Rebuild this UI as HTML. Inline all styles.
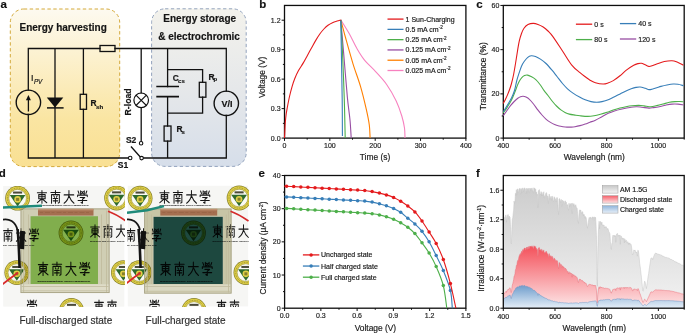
<!DOCTYPE html><html><head><meta charset="utf-8"><style>html,body{margin:0;padding:0;background:#fff;}svg{display:block;will-change:transform;} text{stroke:#1a1a1a;stroke-width:0.18px;}</style></head><body>
<svg width="685" height="333" viewBox="0 0 685 333" font-family='"Liberation Sans", sans-serif'>
<defs>
<linearGradient id="gy" x1="0" y1="0" x2="0" y2="1"><stop offset="0" stop-color="#fdfaf0"/><stop offset="0.3" stop-color="#fcf1cf"/><stop offset="0.7" stop-color="#fae5a2"/><stop offset="1" stop-color="#f9e093"/></linearGradient>
<linearGradient id="gb" x1="0" y1="0" x2="0" y2="1"><stop offset="0" stop-color="#f3f2ec"/><stop offset="0.5" stop-color="#e6e8ea"/><stop offset="1" stop-color="#d6deea"/></linearGradient>
<linearGradient id="ggray" x1="0" y1="0" x2="0" y2="1"><stop offset="0" stop-color="#cdcdcd"/><stop offset="1" stop-color="#f3f3f3"/></linearGradient>
<linearGradient id="gred" x1="0" y1="0" x2="0" y2="1"><stop offset="0" stop-color="#f4505a"/><stop offset="1" stop-color="#fde8e9"/></linearGradient>
<linearGradient id="gblue" x1="0" y1="0" x2="0" y2="1"><stop offset="0" stop-color="#6f9dcc"/><stop offset="1" stop-color="#e6eff8"/></linearGradient>
<linearGradient id="sgray" x1="0" y1="0" x2="0" y2="1"><stop offset="0" stop-color="#c8c8c8"/><stop offset="1" stop-color="#f4f4f4"/></linearGradient>
<linearGradient id="sred" x1="0" y1="0" x2="0" y2="1"><stop offset="0" stop-color="#f5606a"/><stop offset="1" stop-color="#fde3e4"/></linearGradient>
<linearGradient id="sblue" x1="0" y1="0" x2="0" y2="1"><stop offset="0" stop-color="#8fb4da"/><stop offset="1" stop-color="#e8f0f9"/></linearGradient>
</defs>
<text x="0.5" y="7.6" font-size="11.5" text-anchor="start" font-weight="bold" fill="#111">a</text>
<text x="259.3" y="7.9" font-size="11.5" text-anchor="start" font-weight="bold" fill="#111">b</text>
<text x="476.3" y="7.9" font-size="11.5" text-anchor="start" font-weight="bold" fill="#111">c</text>
<text x="-1.2" y="177" font-size="11.5" text-anchor="start" font-weight="bold" fill="#111">d</text>
<text x="258.6" y="177.1" font-size="11.5" text-anchor="start" font-weight="bold" fill="#111">e</text>
<text x="476" y="176.9" font-size="11.5" text-anchor="start" font-weight="bold" fill="#111">f</text>
<rect x="10.3" y="9.0" width="109.4" height="157.6" rx="13.5" ry="13.5" fill="url(#gy)" stroke="#d4a93a" stroke-width="1" stroke-dasharray="3.4 2.5"/>
<rect x="151.6" y="8.8" width="94.6" height="157.6" rx="13.5" ry="13.5" fill="url(#gb)" stroke="#93a3bd" stroke-width="1" stroke-dasharray="3.3 2.5"/>
<text x="19.5" y="30.8" font-size="10" text-anchor="start" font-weight="bold" fill="#141414">Energy harvesting</text>
<text x="163.3" y="22.2" font-size="10" text-anchor="start" font-weight="bold" fill="#141414">Energy storage</text>
<text x="158.2" y="40" font-size="10" text-anchor="start" font-weight="bold" fill="#141414">&amp; electrochromic</text>
<path d="M28.3,48.5 H100 M115,48.5 H226.3 M28.3,48.5 V90.1 M28.3,114.5 V158 M55,48.5 V158 M83.4,48.5 V94.3 M83.4,109.3 V158 M28.3,158 H128.4 M143.3,158 H226.3 M141.2,48.5 V92.9 M141.2,107.7 V141.4 M167.6,48.5 V86.5 M167.6,96.7 V126 M167.6,141.1 V158 M167.6,69.6 H202.6 V82.3 M202.6,97.2 V113.2 H167.6 M226.3,48.5 V91.1 M226.3,115.5 V158 M131.4,147 L140.3,157 " stroke="#111" stroke-width="1.3" fill="none" stroke-linecap="square"/>
<rect x="100" y="45.5" width="15" height="6" fill="none" stroke="#111" stroke-width="1.3"/>
<rect x="80.2" y="94.3" width="6.3" height="15" fill="none" stroke="#111" stroke-width="1.3"/>
<rect x="199.3" y="82.3" width="6.6" height="14.9" fill="none" stroke="#111" stroke-width="1.3"/>
<rect x="164.1" y="126" width="6.9" height="15.1" fill="none" stroke="#111" stroke-width="1.3"/>
<path d="M156.3,86.5 H179 M156.3,96.7 H179" stroke="#111" stroke-width="1.7"/>
<circle cx="28.4" cy="102.3" r="12.2" fill="none" stroke="#111" stroke-width="1.4"/>
<path d="M28.4,111.5 V99" stroke="#111" stroke-width="1.3"/><path d="M25.9,100.3 L28.4,95 L30.9,100.3 Z" fill="#111"/>
<path d="M46.8,97.5 L63.3,97.5 L55,107.4 Z" fill="#111"/><path d="M47,107.9 H63.6" stroke="#111" stroke-width="1.5"/>
<circle cx="141.2" cy="100.3" r="7.3" fill="none" stroke="#111" stroke-width="1.2"/>
<path d="M136.0,95.1 L146.4,105.5 M146.4,95.1 L136.0,105.5" stroke="#111" stroke-width="1.1"/>
<circle cx="226.3" cy="103.3" r="12.2" fill="none" stroke="#111" stroke-width="1.4"/>
<circle cx="130.2" cy="158" r="1.75" fill="#fff" stroke="#111" stroke-width="1.1"/>
<circle cx="141.6" cy="158.1" r="1.75" fill="#fff" stroke="#111" stroke-width="1.1"/>
<circle cx="141.1" cy="143.2" r="1.75" fill="#fff" stroke="#111" stroke-width="1.1"/>
<text x="31.1" y="81.3" font-size="8.9" text-anchor="start" font-weight="normal" fill="#0a0a0a">I</text>
<text x="33.9" y="83.7" font-size="6.3" text-anchor="start" font-weight="normal" fill="#141414" font-style="italic">PV</text>
<text x="90.6" y="105.8" font-size="8.4" text-anchor="start" font-weight="bold" fill="#141414">R</text>
<text x="96.1" y="108.7" font-size="6.1" text-anchor="start" font-weight="bold" fill="#141414">sh</text>
<text x="172.7" y="81" font-size="8.4" text-anchor="start" font-weight="bold" fill="#141414">C</text>
<text x="178.1" y="82.6" font-size="6.0" text-anchor="start" font-weight="bold" fill="#141414">cs</text>
<text x="208.6" y="79.9" font-size="8.4" text-anchor="start" font-weight="bold" fill="#141414">R</text>
<text x="213.5" y="81.2" font-size="6.0" text-anchor="start" font-weight="bold" fill="#141414">p</text>
<text x="176.4" y="131.8" font-size="8.4" text-anchor="start" font-weight="bold" fill="#141414">R</text>
<text x="181.4" y="133.6" font-size="6.0" text-anchor="start" font-weight="bold" fill="#141414">s</text>
<text x="226.9" y="106.6" font-size="9" text-anchor="middle" font-weight="bold" fill="#141414">V/I</text>
<text transform="translate(130.7,101.9) rotate(-90)" font-size="8.7" text-anchor="middle" font-weight="bold" fill="#141414">R-load</text>
<text x="125.9" y="142.7" font-size="8.5" text-anchor="start" font-weight="bold" fill="#141414">S2</text>
<text x="117.8" y="168.4" font-size="8.5" text-anchor="start" font-weight="bold" fill="#141414">S1</text>
<path d="M284.5,138.1 V140.9 M329.85,138.1 V140.9 M375.2,138.1 V140.9 M420.55,138.1 V140.9 M465.9,138.1 V140.9 M307.18,138.1 V139.7 M352.52,138.1 V139.7 M397.88,138.1 V139.7 M443.23,138.1 V139.7 M284.5,138.1 H281.6 M284.5,108.62 H281.6 M284.5,79.14 H281.6 M284.5,49.67 H281.6 M284.5,20.19 H281.6 M284.5,123.36 H282.9 M284.5,93.88 H282.9 M284.5,64.41 H282.9 M284.5,34.93 H282.9 " stroke="#0d0d0d" stroke-width="1.0" fill="none"/>
<rect x="284.5" y="5.45" width="181.4" height="132.65" fill="none" stroke="#0d0d0d" stroke-width="1.3"/>
<text x="284.5" y="148.3" font-size="7" text-anchor="middle" font-weight="normal" fill="#2a2a2a">0</text>
<text x="329.85" y="148.3" font-size="7" text-anchor="middle" font-weight="normal" fill="#2a2a2a">100</text>
<text x="375.2" y="148.3" font-size="7" text-anchor="middle" font-weight="normal" fill="#2a2a2a">200</text>
<text x="420.55" y="148.3" font-size="7" text-anchor="middle" font-weight="normal" fill="#2a2a2a">300</text>
<text x="465.9" y="148.3" font-size="7" text-anchor="middle" font-weight="normal" fill="#2a2a2a">400</text>
<text x="280.6" y="140.6" font-size="7" text-anchor="end" font-weight="normal" fill="#2a2a2a">0.0</text>
<text x="280.6" y="111.12" font-size="7" text-anchor="end" font-weight="normal" fill="#2a2a2a">0.3</text>
<text x="280.6" y="81.64" font-size="7" text-anchor="end" font-weight="normal" fill="#2a2a2a">0.6</text>
<text x="280.6" y="52.17" font-size="7" text-anchor="end" font-weight="normal" fill="#2a2a2a">0.9</text>
<text x="280.6" y="22.69" font-size="7" text-anchor="end" font-weight="normal" fill="#2a2a2a">1.2</text>
<text x="375" y="159.9" font-size="8.4" text-anchor="middle" font-weight="normal" fill="#1a1a1a">Time (s)</text>
<text transform="translate(265.2,77.3) rotate(-90)" font-size="8.4" text-anchor="middle" font-weight="normal" fill="#1a1a1a">Voltage (V)</text>
<path d="M340.8,19.9 C342.22,22.22 346.63,29.07 349.3,33.8 C351.97,38.53 354.3,43.97 356.8,48.3 C359.3,52.63 361.17,55.92 364.3,59.8 C367.43,63.68 371.85,67.45 375.6,71.6 C379.35,75.75 383.37,79.8 386.8,84.7 C390.23,89.6 393.7,95.78 396.2,101 C398.7,106.22 400.42,111.5 401.8,116 C403.18,120.5 403.97,124.33 404.5,128 C405.03,131.67 404.92,136.33 405,138" stroke="#F781BF" stroke-width="1.1" fill="none"/>
<path d="M340.8,19.9 C341.58,22.83 343.47,30.18 345.5,37.5 C347.53,44.82 350.5,55.65 353,63.8 C355.5,71.95 358.3,78.88 360.5,86.4 C362.7,93.92 364.73,102.47 366.2,108.9 C367.67,115.33 368.65,120.15 369.3,125 C369.95,129.85 369.97,135.83 370.1,138" stroke="#FF7F00" stroke-width="1.1" fill="none"/>
<path d="M340.8,19.9 C341.27,25.35 342.5,39.65 343.6,52.6 C344.7,65.55 346.33,86.37 347.4,97.6 C348.47,108.83 349.37,113.27 350,120 C350.63,126.73 351,135 351.2,138" stroke="#984EA3" stroke-width="1.1" fill="none"/>
<path d="M340.8,19.9 C341.08,25.35 341.92,39.25 342.5,52.6 C343.08,65.95 343.85,85.77 344.3,100 C344.75,114.23 345.05,131.67 345.2,138" stroke="#4DAF4A" stroke-width="1.1" fill="none"/>
<path d="M340.8,19.9 C340.92,26.58 341.27,46.65 341.5,60 C341.73,73.35 342.05,87.33 342.2,100 C342.35,112.67 342.37,130 342.4,136" stroke="#377EB8" stroke-width="1.1" fill="none"/>
<path d="M284.5,138 C284.57,136.67 284.77,132.58 284.9,130 C285.03,127.42 285.08,125.17 285.3,122.5 C285.52,119.83 285.87,116.5 286.2,114 C286.53,111.5 286.75,110.42 287.3,107.5 C287.85,104.58 288.72,99.95 289.5,96.5 C290.28,93.05 291.13,89.75 292,86.8 C292.87,83.85 293.62,81.5 294.7,78.8 C295.78,76.1 297.07,73.25 298.5,70.6 C299.93,67.95 301.82,65.43 303.3,62.9 C304.78,60.37 306.03,57.88 307.4,55.4 C308.77,52.92 310.13,50.47 311.5,48 C312.87,45.53 314.22,42.93 315.6,40.6 C316.98,38.27 318.42,35.93 319.8,34 C321.18,32.07 322.53,30.47 323.9,29 C325.27,27.53 326.48,26.3 328,25.2 C329.52,24.1 331.48,23.08 333,22.4 C334.52,21.72 335.8,21.52 337.1,21.1 C338.4,20.68 340.18,20.1 340.8,19.9" stroke="#E41A1C" stroke-width="1.1" fill="none"/>
<path d="M387.5,19.1 H403.5" stroke="#E41A1C" stroke-width="1.3"/>
<text x="405.6" y="21.6" font-size="7" text-anchor="start" font-weight="normal" fill="#1a1a1a">1 Sun-Charging</text>
<path d="M387.5,29.38 H403.5" stroke="#377EB8" stroke-width="1.3"/>
<text x="405.6" y="31.88" font-size="7" fill="#1a1a1a">0.5 mA cm<tspan font-size="4.6" dy="-2.6">-2</tspan></text>
<path d="M387.5,39.66 H403.5" stroke="#4DAF4A" stroke-width="1.3"/>
<text x="405.6" y="42.16" font-size="7" fill="#1a1a1a">0.25 mA cm<tspan font-size="4.6" dy="-2.6">-2</tspan></text>
<path d="M387.5,49.94 H403.5" stroke="#984EA3" stroke-width="1.3"/>
<text x="405.6" y="52.44" font-size="7" fill="#1a1a1a">0.125 mA cm<tspan font-size="4.6" dy="-2.6">-2</tspan></text>
<path d="M387.5,60.22 H403.5" stroke="#FF7F00" stroke-width="1.3"/>
<text x="405.6" y="62.72" font-size="7" fill="#1a1a1a">0.05 mA cm<tspan font-size="4.6" dy="-2.6">-2</tspan></text>
<path d="M387.5,70.5 H403.5" stroke="#F781BF" stroke-width="1.3"/>
<text x="405.6" y="73" font-size="7" fill="#1a1a1a">0.025 mA cm<tspan font-size="4.6" dy="-2.6">-2</tspan></text>
<path d="M503.3,138.1 V140.9 M554.99,138.1 V140.9 M606.67,138.1 V140.9 M658.36,138.1 V140.9 M529.14,138.1 V139.7 M580.83,138.1 V139.7 M632.51,138.1 V139.7 M684.2,138.1 V139.7 M503.3,138.1 H500.4 M503.3,93.88 H500.4 M503.3,49.67 H500.4 M503.3,5.45 H500.4 M503.3,115.99 H501.7 M503.3,71.77 H501.7 M503.3,27.56 H501.7 " stroke="#0d0d0d" stroke-width="1.0" fill="none"/>
<rect x="503.3" y="5.45" width="180.9" height="132.65" fill="none" stroke="#0d0d0d" stroke-width="1.3"/>
<text x="503.3" y="148.3" font-size="7" text-anchor="middle" font-weight="normal" fill="#2a2a2a">400</text>
<text x="554.99" y="148.3" font-size="7" text-anchor="middle" font-weight="normal" fill="#2a2a2a">600</text>
<text x="606.67" y="148.3" font-size="7" text-anchor="middle" font-weight="normal" fill="#2a2a2a">800</text>
<text x="658.36" y="148.3" font-size="7" text-anchor="middle" font-weight="normal" fill="#2a2a2a">1000</text>
<text x="499.3" y="140.6" font-size="7" text-anchor="end" font-weight="normal" fill="#2a2a2a">0</text>
<text x="499.3" y="96.38" font-size="7" text-anchor="end" font-weight="normal" fill="#2a2a2a">20</text>
<text x="499.3" y="52.17" font-size="7" text-anchor="end" font-weight="normal" fill="#2a2a2a">40</text>
<text x="499.3" y="7.95" font-size="7" text-anchor="end" font-weight="normal" fill="#2a2a2a">60</text>
<text x="594.3" y="160.2" font-size="8.4" text-anchor="middle" font-weight="normal" fill="#1a1a1a">Wavelengh (nm)</text>
<text transform="translate(485.6,76.3) rotate(-90)" font-size="8.4" text-anchor="middle" font-weight="normal" fill="#1a1a1a">Transmittance (%)</text>
<path d="M503.3,115.6 C503.88,114.8 505.6,112.45 506.8,110.8 C508,109.15 509.27,107.25 510.5,105.7 C511.73,104.15 512.98,102.73 514.2,101.5 C515.42,100.27 516.75,99.1 517.8,98.3 C518.85,97.5 519.62,97.05 520.5,96.7 C521.38,96.35 522.18,96.13 523.1,96.2 C524.02,96.27 524.95,96.57 526,97.1 C527.05,97.63 528.15,98.25 529.4,99.4 C530.65,100.55 532.1,102.25 533.5,104 C534.9,105.75 536.38,108.07 537.8,109.9 C539.22,111.73 540.6,113.43 542,115 C543.4,116.57 544.78,118.07 546.2,119.3 C547.62,120.53 549.1,121.52 550.5,122.4 C551.9,123.28 553.18,124 554.6,124.6 C556.02,125.2 557.6,125.65 559,126 C560.4,126.35 561.67,126.52 563,126.7 C564.33,126.88 565.6,127.03 567,127.1 C568.4,127.17 570.07,127.17 571.4,127.1 C572.73,127.03 573.57,126.95 575,126.7 C576.43,126.45 578.3,126.05 580,125.6 C581.7,125.15 583.53,124.57 585.2,124 C586.87,123.43 588.3,122.83 590,122.2 C591.7,121.57 593.48,121.08 595.4,120.2 C597.32,119.32 599.37,118.05 601.5,116.9 C603.63,115.75 606.03,114.3 608.2,113.3 C610.37,112.3 612.38,111.58 614.5,110.9 C616.62,110.22 618.65,109.72 620.9,109.2 C623.15,108.68 625.43,108.22 628,107.8 C630.57,107.38 633.97,106.8 636.3,106.7 C638.63,106.6 639.88,106.97 642,107.2 C644.12,107.43 647.08,108.03 649,108.1 C650.92,108.17 651.8,107.83 653.5,107.6 C655.2,107.37 657.2,107.1 659.2,106.7 C661.2,106.3 663.37,105.63 665.5,105.2 C667.63,104.77 669.92,104.28 672,104.1 C674.08,103.92 676.08,103.97 678,104.1 C679.92,104.23 682.58,104.77 683.5,104.9" stroke="#984EA3" stroke-width="1.1" fill="none"/>
<path d="M503.3,113 C503.97,112.02 505.93,109.27 507.3,107.1 C508.67,104.93 510.27,102.42 511.5,100 C512.73,97.58 513.73,95 514.7,92.6 C515.67,90.2 516.53,87.5 517.3,85.6 C518.07,83.7 518.58,82.5 519.3,81.2 C520.02,79.9 520.73,78.73 521.6,77.8 C522.47,76.87 523.52,76.05 524.5,75.6 C525.48,75.15 526.42,74.95 527.5,75.1 C528.58,75.25 529.62,75.75 531,76.5 C532.38,77.25 534.3,78.27 535.8,79.6 C537.3,80.93 538.62,82.67 540,84.5 C541.38,86.33 542.77,88.77 544.1,90.6 C545.43,92.43 546.6,93.68 548,95.5 C549.4,97.32 551.08,99.75 552.5,101.5 C553.92,103.25 555.1,104.6 556.5,106 C557.9,107.4 559.48,108.83 560.9,109.9 C562.32,110.97 563.6,111.7 565,112.4 C566.4,113.1 567.63,113.65 569.3,114.1 C570.97,114.55 573.22,114.82 575,115.1 C576.78,115.38 577.87,115.58 580,115.8 C582.13,116.02 585.47,116.4 587.8,116.4 C590.13,116.4 591.88,116.15 594,115.8 C596.12,115.45 598.33,114.88 600.5,114.3 C602.67,113.72 604.87,113.02 607,112.3 C609.13,111.58 611.13,110.72 613.3,110 C615.47,109.28 617.88,108.55 620,108 C622.12,107.45 624,107.07 626,106.7 C628,106.33 629.87,106.02 632,105.8 C634.13,105.58 636.8,105.38 638.8,105.4 C640.8,105.42 642.3,105.68 644,105.9 C645.7,106.12 647.58,106.6 649,106.7 C650.42,106.8 651.22,106.68 652.5,106.5 C653.78,106.32 654.95,106.02 656.7,105.6 C658.45,105.18 660.88,104.55 663,104 C665.12,103.45 667.4,102.7 669.4,102.3 C671.4,101.9 673.3,101.73 675,101.6 C676.7,101.47 678.18,101.47 679.6,101.5 C681.02,101.53 682.85,101.75 683.5,101.8" stroke="#4DAF4A" stroke-width="1.1" fill="none"/>
<path d="M503.3,111.8 C503.97,110.7 505.93,107.5 507.3,105.2 C508.67,102.9 510.3,100.45 511.5,98 C512.7,95.55 513.62,93.42 514.5,90.5 C515.38,87.58 516.02,83.47 516.8,80.5 C517.58,77.53 518.42,75.08 519.2,72.7 C519.98,70.32 520.7,68.02 521.5,66.2 C522.3,64.38 523,63.23 524,61.8 C525,60.37 526.3,58.6 527.5,57.6 C528.7,56.6 529.87,55.97 531.2,55.8 C532.53,55.63 533.9,56 535.5,56.6 C537.1,57.2 539.05,58.25 540.8,59.4 C542.55,60.55 544.13,61.7 546,63.5 C547.87,65.3 550.17,68.03 552,70.2 C553.83,72.37 555.25,74.28 557,76.5 C558.75,78.72 560.75,81.45 562.5,83.5 C564.25,85.55 565.75,87.2 567.5,88.8 C569.25,90.4 570.92,91.68 573,93.1 C575.08,94.52 577.97,96.18 580,97.3 C582.03,98.42 583.37,99.08 585.2,99.8 C587.03,100.52 589.08,101.18 591,101.6 C592.92,102.02 594.87,102.3 596.7,102.3 C598.53,102.3 600.08,102.02 602,101.6 C603.92,101.18 606.2,100.57 608.2,99.8 C610.2,99.03 611.88,98.07 614,97 C616.12,95.93 618.9,94.42 620.9,93.4 C622.9,92.38 624.28,91.67 626,90.9 C627.72,90.13 629.53,89.38 631.2,88.8 C632.87,88.22 634.52,87.7 636,87.4 C637.48,87.1 638.57,86.85 640.1,87 C641.63,87.15 643.72,87.87 645.2,88.3 C646.68,88.73 647.87,89.45 649,89.6 C650.13,89.75 650.72,89.5 652,89.2 C653.28,88.9 655.2,88.27 656.7,87.8 C658.2,87.33 659.3,86.87 661,86.4 C662.7,85.93 664.85,85.4 666.9,85 C668.95,84.6 671.45,84.12 673.3,84 C675.15,83.88 676.3,84.02 678,84.3 C679.7,84.58 682.58,85.47 683.5,85.7" stroke="#377EB8" stroke-width="1.1" fill="none"/>
<path d="M503.3,103.4 C503.67,102.7 504.8,100.62 505.5,99.2 C506.2,97.78 506.83,96.47 507.5,94.9 C508.17,93.33 508.83,91.7 509.5,89.8 C510.17,87.9 510.82,86.05 511.5,83.5 C512.18,80.95 512.92,77.92 513.6,74.5 C514.28,71.08 514.95,66.92 515.6,63 C516.25,59.08 516.9,54.6 517.5,51 C518.1,47.4 518.53,44.32 519.2,41.4 C519.87,38.48 520.7,35.7 521.5,33.5 C522.3,31.3 522.92,29.68 524,28.2 C525.08,26.72 526.47,25.4 528,24.6 C529.53,23.8 531.53,23.43 533.2,23.4 C534.87,23.37 536.33,23.8 538,24.4 C539.67,25 541.53,25.9 543.2,27 C544.87,28.1 546.38,29.4 548,31 C549.62,32.6 550.48,33.27 552.9,36.6 C555.32,39.93 559.32,46.2 562.5,51 C565.68,55.8 569.08,61.78 572,65.4 C574.92,69.02 577.8,70.8 580,72.7 C582.2,74.6 583.53,75.55 585.2,76.8 C586.87,78.05 588.3,79.22 590,80.2 C591.7,81.18 593.22,82.07 595.4,82.7 C597.58,83.33 601,83.95 603.1,84 C605.2,84.05 606.3,83.57 608,83 C609.7,82.43 611.3,81.8 613.3,80.6 C615.3,79.4 617.88,77.5 620,75.8 C622.12,74.1 623.72,72.15 626,70.4 C628.28,68.65 631.7,66.43 633.7,65.3 C635.7,64.17 636.72,63.93 638,63.6 C639.28,63.27 640.2,63.1 641.4,63.3 C642.6,63.5 643.93,64.28 645.2,64.8 C646.47,65.32 647.87,66.23 649,66.4 C650.13,66.57 650.72,66.2 652,65.8 C653.28,65.4 654.65,64.72 656.7,64 C658.75,63.28 661.75,62.05 664.3,61.5 C666.85,60.95 669.87,60.6 672,60.7 C674.13,60.8 675.18,61.33 677.1,62.1 C679.02,62.87 682.43,64.77 683.5,65.3" stroke="#E41A1C" stroke-width="1.1" fill="none"/>
<path d="M575.9,24.2 H592.1999999999999" stroke="#E41A1C" stroke-width="1.3"/>
<text x="594.3" y="26.7" font-size="7" text-anchor="start" font-weight="normal" fill="#1a1a1a">0 s</text>
<path d="M619.9,23.6 H636.1999999999999" stroke="#377EB8" stroke-width="1.3"/>
<text x="638.3" y="26.1" font-size="7" text-anchor="start" font-weight="normal" fill="#1a1a1a">40 s</text>
<path d="M575.9,39.6 H592.1999999999999" stroke="#4DAF4A" stroke-width="1.3"/>
<text x="594.3" y="42.1" font-size="7" text-anchor="start" font-weight="normal" fill="#1a1a1a">80 s</text>
<path d="M619.9,39.0 H636.1999999999999" stroke="#984EA3" stroke-width="1.3"/>
<text x="638.3" y="41.5" font-size="7" text-anchor="start" font-weight="normal" fill="#1a1a1a">120 s</text>
<path d="M284.6,308.2 V311 M320.86,308.2 V311 M357.12,308.2 V311 M393.38,308.2 V311 M429.64,308.2 V311 M465.9,308.2 V311 M302.73,308.2 V309.8 M338.99,308.2 V309.8 M375.25,308.2 V309.8 M411.51,308.2 V309.8 M447.77,308.2 V309.8 M284.6,308.2 H281.7 M284.6,275.02 H281.7 M284.6,241.85 H281.7 M284.6,208.68 H281.7 M284.6,175.5 H281.7 M284.6,291.61 H283 M284.6,258.44 H283 M284.6,225.26 H283 M284.6,192.09 H283 " stroke="#0d0d0d" stroke-width="1.0" fill="none"/>
<rect x="284.6" y="175.5" width="181.3" height="132.7" fill="none" stroke="#0d0d0d" stroke-width="1.3"/>
<text x="284.6" y="318.3" font-size="7" text-anchor="middle" font-weight="normal" fill="#2a2a2a">0.0</text>
<text x="320.86" y="318.3" font-size="7" text-anchor="middle" font-weight="normal" fill="#2a2a2a">0.3</text>
<text x="357.12" y="318.3" font-size="7" text-anchor="middle" font-weight="normal" fill="#2a2a2a">0.6</text>
<text x="393.38" y="318.3" font-size="7" text-anchor="middle" font-weight="normal" fill="#2a2a2a">0.9</text>
<text x="429.64" y="318.3" font-size="7" text-anchor="middle" font-weight="normal" fill="#2a2a2a">1.2</text>
<text x="465.9" y="318.3" font-size="7" text-anchor="middle" font-weight="normal" fill="#2a2a2a">1.5</text>
<text x="280.6" y="310.7" font-size="7" text-anchor="end" font-weight="normal" fill="#2a2a2a">0</text>
<text x="280.6" y="277.52" font-size="7" text-anchor="end" font-weight="normal" fill="#2a2a2a">10</text>
<text x="280.6" y="244.35" font-size="7" text-anchor="end" font-weight="normal" fill="#2a2a2a">20</text>
<text x="280.6" y="211.18" font-size="7" text-anchor="end" font-weight="normal" fill="#2a2a2a">30</text>
<text x="280.6" y="178" font-size="7" text-anchor="end" font-weight="normal" fill="#2a2a2a">40</text>
<text x="375.4" y="330.6" font-size="8.4" text-anchor="middle" font-weight="normal" fill="#1a1a1a">Voltage (V)</text>
<text transform="translate(266.3,248) rotate(-90)" font-size="8.4" text-anchor="middle" fill="#1a1a1a">Current density (μA cm<tspan font-size="5.4" dy="-3">-2</tspan><tspan dy="3">)</tspan></text>
<path d="M284.3,208.35 C284.68,208.36 285.03,208.32 286.6,208.4 C288.17,208.48 291.34,208.68 293.7,208.83 C296.07,208.97 298.44,209.11 300.81,209.25 C303.18,209.39 305.54,209.53 307.91,209.68 C310.28,209.82 312.65,209.96 315.02,210.1 C317.38,210.24 319.75,210.38 322.12,210.53 C324.49,210.67 326.86,210.81 329.22,210.95 C331.59,211.09 333.96,211.24 336.33,211.38 C338.7,211.52 341.06,211.66 343.43,211.8 C345.8,211.94 348.17,212.09 350.54,212.23 C352.9,212.37 355.27,212.51 357.64,212.65 C360.01,212.8 362.33,212.89 364.74,213.08 C367.15,213.27 369.66,213.5 372.1,213.8 C374.54,214.1 377.02,214.4 379.4,214.9 C381.78,215.4 384.03,216.08 386.4,216.8 C388.77,217.52 391.22,218.2 393.6,219.2 C395.98,220.2 398.33,221.47 400.7,222.8 C403.07,224.13 405.43,225.4 407.8,227.2 C410.17,229 412.53,231 414.9,233.6 C417.27,236.2 419.63,239.57 422,242.8 C424.37,246.03 426.73,249.03 429.1,253 C431.47,256.97 433.83,261.18 436.2,266.6 C438.57,272.02 441.53,278.57 443.3,285.5 C445.07,292.43 446.22,304.42 446.8,308.2" stroke="#4DAF4A" stroke-width="1.1" fill="none"/>
<circle cx="286.6" cy="208.4" r="1.75" fill="#4DAF4A"/>
<circle cx="293.7" cy="208.83" r="1.75" fill="#4DAF4A"/>
<circle cx="300.81" cy="209.25" r="1.75" fill="#4DAF4A"/>
<circle cx="307.91" cy="209.68" r="1.75" fill="#4DAF4A"/>
<circle cx="315.02" cy="210.1" r="1.75" fill="#4DAF4A"/>
<circle cx="322.12" cy="210.53" r="1.75" fill="#4DAF4A"/>
<circle cx="329.22" cy="210.95" r="1.75" fill="#4DAF4A"/>
<circle cx="336.33" cy="211.38" r="1.75" fill="#4DAF4A"/>
<circle cx="343.43" cy="211.8" r="1.75" fill="#4DAF4A"/>
<circle cx="350.54" cy="212.23" r="1.75" fill="#4DAF4A"/>
<circle cx="357.64" cy="212.65" r="1.75" fill="#4DAF4A"/>
<circle cx="364.74" cy="213.08" r="1.75" fill="#4DAF4A"/>
<circle cx="372.1" cy="213.8" r="1.75" fill="#4DAF4A"/>
<circle cx="379.4" cy="214.9" r="1.75" fill="#4DAF4A"/>
<circle cx="386.4" cy="216.8" r="1.75" fill="#4DAF4A"/>
<circle cx="393.6" cy="219.2" r="1.75" fill="#4DAF4A"/>
<circle cx="400.7" cy="222.8" r="1.75" fill="#4DAF4A"/>
<circle cx="407.8" cy="227.2" r="1.75" fill="#4DAF4A"/>
<circle cx="414.9" cy="233.6" r="1.75" fill="#4DAF4A"/>
<circle cx="422" cy="242.8" r="1.75" fill="#4DAF4A"/>
<circle cx="429.1" cy="253" r="1.75" fill="#4DAF4A"/>
<circle cx="436.2" cy="266.6" r="1.75" fill="#4DAF4A"/>
<circle cx="443.3" cy="285.5" r="1.75" fill="#4DAF4A"/>
<path d="M284.3,196.85 C284.68,196.86 285.03,196.83 286.6,196.9 C288.17,196.97 291.34,197.15 293.7,197.28 C296.07,197.41 298.44,197.53 300.81,197.66 C303.18,197.79 305.54,197.91 307.91,198.04 C310.28,198.17 312.65,198.29 315.02,198.42 C317.38,198.55 319.75,198.67 322.12,198.8 C324.49,198.93 326.86,199.05 329.22,199.18 C331.59,199.31 333.96,199.43 336.33,199.56 C338.7,199.69 341.06,199.81 343.43,199.94 C345.8,200.07 348.17,200.19 350.54,200.32 C352.9,200.45 355.27,200.57 357.64,200.7 C360.01,200.83 362.33,200.85 364.74,201.08 C367.15,201.31 369.66,201.66 372.1,202.1 C374.54,202.54 377.02,203.08 379.4,203.7 C381.78,204.32 384.03,205.02 386.4,205.8 C388.77,206.58 391.22,207.32 393.6,208.4 C395.98,209.48 398.33,210.67 400.7,212.3 C403.07,213.93 405.43,216.25 407.8,218.2 C410.17,220.15 412.53,221.82 414.9,224 C417.27,226.18 419.63,228.33 422,231.3 C424.37,234.27 426.73,237.75 429.1,241.8 C431.47,245.85 433.83,250.82 436.2,255.6 C438.57,260.38 440.93,264.68 443.3,270.5 C445.67,276.32 448.9,284.22 450.4,290.5 C451.9,296.78 451.98,305.25 452.3,308.2" stroke="#377EB8" stroke-width="1.1" fill="none"/>
<circle cx="286.6" cy="196.9" r="1.75" fill="#377EB8"/>
<circle cx="293.7" cy="197.28" r="1.75" fill="#377EB8"/>
<circle cx="300.81" cy="197.66" r="1.75" fill="#377EB8"/>
<circle cx="307.91" cy="198.04" r="1.75" fill="#377EB8"/>
<circle cx="315.02" cy="198.42" r="1.75" fill="#377EB8"/>
<circle cx="322.12" cy="198.8" r="1.75" fill="#377EB8"/>
<circle cx="329.22" cy="199.18" r="1.75" fill="#377EB8"/>
<circle cx="336.33" cy="199.56" r="1.75" fill="#377EB8"/>
<circle cx="343.43" cy="199.94" r="1.75" fill="#377EB8"/>
<circle cx="350.54" cy="200.32" r="1.75" fill="#377EB8"/>
<circle cx="357.64" cy="200.7" r="1.75" fill="#377EB8"/>
<circle cx="364.74" cy="201.08" r="1.75" fill="#377EB8"/>
<circle cx="372.1" cy="202.1" r="1.75" fill="#377EB8"/>
<circle cx="379.4" cy="203.7" r="1.75" fill="#377EB8"/>
<circle cx="386.4" cy="205.8" r="1.75" fill="#377EB8"/>
<circle cx="393.6" cy="208.4" r="1.75" fill="#377EB8"/>
<circle cx="400.7" cy="212.3" r="1.75" fill="#377EB8"/>
<circle cx="407.8" cy="218.2" r="1.75" fill="#377EB8"/>
<circle cx="414.9" cy="224" r="1.75" fill="#377EB8"/>
<circle cx="422" cy="231.3" r="1.75" fill="#377EB8"/>
<circle cx="429.1" cy="241.8" r="1.75" fill="#377EB8"/>
<circle cx="436.2" cy="255.6" r="1.75" fill="#377EB8"/>
<circle cx="443.3" cy="270.5" r="1.75" fill="#377EB8"/>
<circle cx="450.4" cy="290.5" r="1.75" fill="#377EB8"/>
<path d="M284.3,186.15 C284.68,186.16 285.03,186.13 286.6,186.2 C288.17,186.27 291.34,186.46 293.7,186.59 C296.07,186.72 298.44,186.85 300.81,186.98 C303.18,187.11 305.54,187.24 307.91,187.37 C310.28,187.5 312.65,187.63 315.02,187.76 C317.38,187.89 319.75,188.02 322.12,188.15 C324.49,188.28 326.86,188.41 329.22,188.53 C331.59,188.66 333.96,188.79 336.33,188.92 C338.7,189.05 341.06,189.18 343.43,189.31 C345.8,189.44 348.17,189.57 350.54,189.7 C352.9,189.83 355.27,189.96 357.64,190.09 C360.01,190.22 362.33,190.23 364.74,190.48 C367.15,190.73 369.66,191.16 372.1,191.6 C374.54,192.04 377.02,192.55 379.4,193.1 C381.78,193.65 384.03,194.17 386.4,194.9 C388.77,195.63 391.22,196.43 393.6,197.5 C395.98,198.57 398.33,199.88 400.7,201.3 C403.07,202.72 405.43,204.23 407.8,206 C410.17,207.77 412.53,209.4 414.9,211.9 C417.27,214.4 419.63,217.65 422,221 C424.37,224.35 426.73,228.25 429.1,232 C431.47,235.75 433.83,238.92 436.2,243.5 C438.57,248.08 440.93,252.82 443.3,259.5 C445.67,266.18 448.3,275.48 450.4,283.6 C452.5,291.72 454.98,304.1 455.9,308.2" stroke="#E41A1C" stroke-width="1.1" fill="none"/>
<circle cx="286.6" cy="186.2" r="1.75" fill="#E41A1C"/>
<circle cx="293.7" cy="186.59" r="1.75" fill="#E41A1C"/>
<circle cx="300.81" cy="186.98" r="1.75" fill="#E41A1C"/>
<circle cx="307.91" cy="187.37" r="1.75" fill="#E41A1C"/>
<circle cx="315.02" cy="187.76" r="1.75" fill="#E41A1C"/>
<circle cx="322.12" cy="188.15" r="1.75" fill="#E41A1C"/>
<circle cx="329.22" cy="188.53" r="1.75" fill="#E41A1C"/>
<circle cx="336.33" cy="188.92" r="1.75" fill="#E41A1C"/>
<circle cx="343.43" cy="189.31" r="1.75" fill="#E41A1C"/>
<circle cx="350.54" cy="189.7" r="1.75" fill="#E41A1C"/>
<circle cx="357.64" cy="190.09" r="1.75" fill="#E41A1C"/>
<circle cx="364.74" cy="190.48" r="1.75" fill="#E41A1C"/>
<circle cx="372.1" cy="191.6" r="1.75" fill="#E41A1C"/>
<circle cx="379.4" cy="193.1" r="1.75" fill="#E41A1C"/>
<circle cx="386.4" cy="194.9" r="1.75" fill="#E41A1C"/>
<circle cx="393.6" cy="197.5" r="1.75" fill="#E41A1C"/>
<circle cx="400.7" cy="201.3" r="1.75" fill="#E41A1C"/>
<circle cx="407.8" cy="206" r="1.75" fill="#E41A1C"/>
<circle cx="414.9" cy="211.9" r="1.75" fill="#E41A1C"/>
<circle cx="422" cy="221" r="1.75" fill="#E41A1C"/>
<circle cx="429.1" cy="232" r="1.75" fill="#E41A1C"/>
<circle cx="436.2" cy="243.5" r="1.75" fill="#E41A1C"/>
<circle cx="443.3" cy="259.5" r="1.75" fill="#E41A1C"/>
<circle cx="450.4" cy="283.6" r="1.75" fill="#E41A1C"/>
<path d="M302.9,254.9 H319.3" stroke="#E41A1C" stroke-width="1.3"/><circle cx="311.1" cy="254.9" r="1.75" fill="#E41A1C"/>
<text x="321" y="257.4" font-size="7" text-anchor="start" font-weight="normal" fill="#1a1a1a">Uncharged state</text>
<path d="M302.9,266.05 H319.3" stroke="#377EB8" stroke-width="1.3"/><circle cx="311.1" cy="266.05" r="1.75" fill="#377EB8"/>
<text x="321" y="268.55" font-size="7" text-anchor="start" font-weight="normal" fill="#1a1a1a">Half charged state</text>
<path d="M302.9,277.2 H319.3" stroke="#4DAF4A" stroke-width="1.3"/><circle cx="311.1" cy="277.2" r="1.75" fill="#4DAF4A"/>
<text x="321" y="279.7" font-size="7" text-anchor="start" font-weight="normal" fill="#1a1a1a">Full charged state</text>
<path d="M503.3,308.2 L503.3,222.2 L503.75,222.2 L504.2,219.35 L504.65,217.4 L505.1,217.61 L505.55,215.67 L506,214.85 L506.45,222.34 L506.9,217.09 L507.35,215.84 L507.8,214.66 L508.25,214.65 L508.7,219.32 L509.15,216 L509.6,216.71 L510.05,217.16 L510.5,226.47 L510.95,242.74 L511.4,243.89 L511.85,229.68 L512.3,219.34 L512.75,218 L513.2,213.48 L513.65,210.07 L514.1,201 L514.55,203.59 L515,201.3 L515.45,193.3 L515.9,195.75 L516.35,189.73 L516.8,195.06 L517.25,189.04 L517.7,188.89 L518.15,193.14 L518.6,191.09 L519.05,188.88 L519.5,188.57 L519.95,188.42 L520.4,188.7 L520.85,194.3 L521.3,189.01 L521.75,188.53 L522.2,192.99 L522.65,188.05 L523.1,188.38 L523.55,192.08 L524,188.65 L524.45,187.8 L524.9,188.29 L525.35,188.96 L525.8,193.74 L526.25,190.38 L526.7,188.16 L527.15,193.35 L527.6,188.51 L528.05,191.85 L528.5,188.36 L528.95,193.23 L529.4,189.58 L529.85,188.02 L530.3,188.63 L530.75,188.68 L531.2,190.75 L531.65,188.27 L532.1,187.92 L532.55,190.36 L533,190.74 L533.45,193.39 L533.9,187.7 L534.35,189.44 L534.8,188.02 L535.25,190.37 L535.7,189.19 L536.15,194.4 L536.6,191.9 L537.05,195.46 L537.5,194.29 L537.95,207.72 L538.4,191.12 L538.85,190.34 L539.3,189.6 L539.75,193.68 L540.2,193.89 L540.65,194.6 L541.1,191.55 L541.55,196.04 L542,192.36 L542.45,196.12 L542.9,194.26 L543.35,194.15 L543.8,191.74 L544.25,198.27 L544.7,195.97 L545.15,196.23 L545.6,194.17 L546.05,192.7 L546.5,192.76 L546.95,194.92 L547.4,196.72 L547.85,196.21 L548.3,203.56 L548.75,197.04 L549.2,194.09 L549.65,197.22 L550.1,199.47 L550.55,197.7 L551,196.25 L551.45,200.44 L551.9,196.47 L552.35,196.35 L552.8,197.69 L553.25,200.82 L553.7,202.06 L554.15,196.7 L554.6,197.4 L555.05,198.4 L555.5,199.08 L555.95,202.05 L556.4,199.13 L556.85,197.49 L557.3,197.67 L557.75,200.44 L558.2,210.25 L558.65,214.55 L559.1,198.93 L559.55,198.49 L560,199.76 L560.45,200.89 L560.9,202.83 L561.35,199.38 L561.8,206.65 L562.25,201.82 L562.7,200.04 L563.15,202.03 L563.6,201.75 L564.05,200.92 L564.5,203.72 L564.95,204.04 L565.4,200.79 L565.85,202.98 L566.3,202.25 L566.75,205.16 L567.2,205.94 L567.65,204.59 L568.1,208.79 L568.55,210.26 L569,203.15 L569.45,206.93 L569.9,204.47 L570.35,203.66 L570.8,206.31 L571.25,203.18 L571.7,204.78 L572.15,213.85 L572.6,203.33 L573.05,203.59 L573.5,206.27 L573.95,203.66 L574.4,206.02 L574.85,205.9 L575.3,205.37 L575.75,204.73 L576.2,206.78 L576.65,208.43 L577.1,208.01 L577.55,213.24 L578,221.08 L578.45,223.39 L578.9,215.58 L579.35,210.64 L579.8,209.74 L580.25,211.09 L580.7,209.97 L581.15,211.71 L581.6,213.63 L582.05,212.46 L582.5,211.6 L582.95,213 L583.4,216.11 L583.85,214.17 L584.3,214.9 L584.75,218.25 L585.2,216.27 L585.65,218.44 L586.1,217.56 L586.55,220.64 L587,224.93 L587.45,228.24 L587.9,225.54 L588.35,222.15 L588.8,218.75 L589.25,217.45 L589.7,218.08 L590.15,217.81 L590.6,216.94 L591.05,218.65 L591.5,218.08 L591.95,218.4 L592.4,216.81 L592.85,219.33 L593.3,216.92 L593.75,219.96 L594.2,220.66 L594.65,216.85 L595.1,219.4 L595.55,217.19 L596,223.95 L596.45,235.88 L596.9,275.76 L597.35,286.28 L597.8,251.99 L598.25,234.69 L598.7,226.04 L599.15,221.18 L599.6,228.84 L600.05,222.25 L600.5,221.51 L600.95,221.77 L601.4,224.65 L601.85,222.08 L602.3,225.42 L602.75,225.23 L603.2,224.8 L603.65,225.32 L604.1,225.18 L604.55,227.98 L605,226.81 L605.45,226.95 L605.9,226.68 L606.35,226.8 L606.8,229.17 L607.25,229.7 L607.7,228.32 L608.15,229.09 L608.6,231.05 L609.05,232.37 L609.5,232.64 L609.95,233.92 L610.4,241.7 L610.85,247.26 L611.3,249.55 L611.75,243.7 L612.2,243.95 L612.65,236.4 L613.1,235.05 L613.55,236.15 L614,235.94 L614.45,235.32 L614.9,237.04 L615.35,235.56 L615.8,242.35 L616.25,235.35 L616.7,234.02 L617.15,233.51 L617.6,233.63 L618.05,236.38 L618.5,235.1 L618.95,235.57 L619.4,236.08 L619.85,234.96 L620.3,244.36 L620.75,235.74 L621.2,236.09 L621.65,237.61 L622.1,239.32 L622.55,238 L623,237.9 L623.45,239.2 L623.9,238.45 L624.35,242.96 L624.8,238.82 L625.25,241.09 L625.7,242.07 L626.15,239.94 L626.6,243 L627.05,243.18 L627.5,241.89 L627.95,241.63 L628.4,244.37 L628.85,242.91 L629.3,244.54 L629.75,242.88 L630.2,244.21 L630.65,243.95 L631.1,244.6 L631.55,247.06 L632,250.2 L632.45,254.96 L632.9,254.21 L633.35,254.13 L633.8,249.88 L634.25,250.6 L634.7,250.37 L635.15,250.18 L635.6,251.87 L636.05,252.97 L636.5,251.92 L636.95,253.97 L637.4,256.14 L637.85,250.16 L638.3,250.55 L638.75,253.97 L639.2,257.86 L639.65,263.27 L640.1,266.1 L640.55,269.81 L641,274.06 L641.45,277.39 L641.9,282.29 L642.35,286.66 L642.8,290.74 L643.25,291.22 L643.7,287.72 L644.15,284.11 L644.6,281.14 L645.05,281.83 L645.5,283.87 L645.95,286.09 L646.4,288.62 L646.85,285.71 L647.3,282.78 L647.75,279.3 L648.2,276.22 L648.65,273.66 L649.1,270.21 L649.55,267.1 L650,263.96 L650.45,261.11 L650.9,258.2 L651.35,257.92 L651.8,258.35 L652.25,258.47 L652.7,259.62 L653.15,257.85 L653.6,256.79 L654.05,255.68 L654.5,254.42 L654.95,253.79 L655.4,253.28 L655.85,252.91 L656.3,253.69 L656.75,253.22 L657.2,253.7 L657.65,254.33 L658.1,254.32 L658.55,254.23 L659,254.12 L659.45,254.78 L659.9,254.48 L660.35,254.68 L660.8,255.22 L661.25,255.07 L661.7,255.46 L662.15,255.54 L662.6,256.3 L663.05,255.97 L663.5,256.37 L663.95,256.77 L664.4,256.84 L664.85,257.05 L665.3,257.21 L665.75,257.53 L666.2,257.25 L666.65,257.71 L667.1,257.52 L667.55,258 L668,257.87 L668.45,257.99 L668.9,258.26 L669.35,258.38 L669.8,258.63 L670.25,259.36 L670.7,259.06 L671.15,259.61 L671.6,259.5 L672.05,259.78 L672.5,260.03 L672.95,260.52 L673.4,260.45 L673.85,260.67 L674.3,260.97 L674.75,261.65 L675.2,261.39 L675.65,262.22 L676.1,262.06 L676.55,262.23 L677,262.23 L677.45,263.02 L677.9,262.98 L678.35,263.03 L678.8,263.57 L679.25,263.4 L679.7,263.8 L680.15,264.34 L680.6,264.15 L681.05,264.48 L681.5,265.22 L681.95,265.21 L682.4,265.15 L682.85,265.33 L683.3,265.53 L683.75,266.38 L683.75,308.2 Z" fill="url(#ggray)"/>
<path d="M503.3,222.2 L503.75,222.2 L504.2,219.35 L504.65,217.4 L505.1,217.61 L505.55,215.67 L506,214.85 L506.45,222.34 L506.9,217.09 L507.35,215.84 L507.8,214.66 L508.25,214.65 L508.7,219.32 L509.15,216 L509.6,216.71 L510.05,217.16 L510.5,226.47 L510.95,242.74 L511.4,243.89 L511.85,229.68 L512.3,219.34 L512.75,218 L513.2,213.48 L513.65,210.07 L514.1,201 L514.55,203.59 L515,201.3 L515.45,193.3 L515.9,195.75 L516.35,189.73 L516.8,195.06 L517.25,189.04 L517.7,188.89 L518.15,193.14 L518.6,191.09 L519.05,188.88 L519.5,188.57 L519.95,188.42 L520.4,188.7 L520.85,194.3 L521.3,189.01 L521.75,188.53 L522.2,192.99 L522.65,188.05 L523.1,188.38 L523.55,192.08 L524,188.65 L524.45,187.8 L524.9,188.29 L525.35,188.96 L525.8,193.74 L526.25,190.38 L526.7,188.16 L527.15,193.35 L527.6,188.51 L528.05,191.85 L528.5,188.36 L528.95,193.23 L529.4,189.58 L529.85,188.02 L530.3,188.63 L530.75,188.68 L531.2,190.75 L531.65,188.27 L532.1,187.92 L532.55,190.36 L533,190.74 L533.45,193.39 L533.9,187.7 L534.35,189.44 L534.8,188.02 L535.25,190.37 L535.7,189.19 L536.15,194.4 L536.6,191.9 L537.05,195.46 L537.5,194.29 L537.95,207.72 L538.4,191.12 L538.85,190.34 L539.3,189.6 L539.75,193.68 L540.2,193.89 L540.65,194.6 L541.1,191.55 L541.55,196.04 L542,192.36 L542.45,196.12 L542.9,194.26 L543.35,194.15 L543.8,191.74 L544.25,198.27 L544.7,195.97 L545.15,196.23 L545.6,194.17 L546.05,192.7 L546.5,192.76 L546.95,194.92 L547.4,196.72 L547.85,196.21 L548.3,203.56 L548.75,197.04 L549.2,194.09 L549.65,197.22 L550.1,199.47 L550.55,197.7 L551,196.25 L551.45,200.44 L551.9,196.47 L552.35,196.35 L552.8,197.69 L553.25,200.82 L553.7,202.06 L554.15,196.7 L554.6,197.4 L555.05,198.4 L555.5,199.08 L555.95,202.05 L556.4,199.13 L556.85,197.49 L557.3,197.67 L557.75,200.44 L558.2,210.25 L558.65,214.55 L559.1,198.93 L559.55,198.49 L560,199.76 L560.45,200.89 L560.9,202.83 L561.35,199.38 L561.8,206.65 L562.25,201.82 L562.7,200.04 L563.15,202.03 L563.6,201.75 L564.05,200.92 L564.5,203.72 L564.95,204.04 L565.4,200.79 L565.85,202.98 L566.3,202.25 L566.75,205.16 L567.2,205.94 L567.65,204.59 L568.1,208.79 L568.55,210.26 L569,203.15 L569.45,206.93 L569.9,204.47 L570.35,203.66 L570.8,206.31 L571.25,203.18 L571.7,204.78 L572.15,213.85 L572.6,203.33 L573.05,203.59 L573.5,206.27 L573.95,203.66 L574.4,206.02 L574.85,205.9 L575.3,205.37 L575.75,204.73 L576.2,206.78 L576.65,208.43 L577.1,208.01 L577.55,213.24 L578,221.08 L578.45,223.39 L578.9,215.58 L579.35,210.64 L579.8,209.74 L580.25,211.09 L580.7,209.97 L581.15,211.71 L581.6,213.63 L582.05,212.46 L582.5,211.6 L582.95,213 L583.4,216.11 L583.85,214.17 L584.3,214.9 L584.75,218.25 L585.2,216.27 L585.65,218.44 L586.1,217.56 L586.55,220.64 L587,224.93 L587.45,228.24 L587.9,225.54 L588.35,222.15 L588.8,218.75 L589.25,217.45 L589.7,218.08 L590.15,217.81 L590.6,216.94 L591.05,218.65 L591.5,218.08 L591.95,218.4 L592.4,216.81 L592.85,219.33 L593.3,216.92 L593.75,219.96 L594.2,220.66 L594.65,216.85 L595.1,219.4 L595.55,217.19 L596,223.95 L596.45,235.88 L596.9,275.76 L597.35,286.28 L597.8,251.99 L598.25,234.69 L598.7,226.04 L599.15,221.18 L599.6,228.84 L600.05,222.25 L600.5,221.51 L600.95,221.77 L601.4,224.65 L601.85,222.08 L602.3,225.42 L602.75,225.23 L603.2,224.8 L603.65,225.32 L604.1,225.18 L604.55,227.98 L605,226.81 L605.45,226.95 L605.9,226.68 L606.35,226.8 L606.8,229.17 L607.25,229.7 L607.7,228.32 L608.15,229.09 L608.6,231.05 L609.05,232.37 L609.5,232.64 L609.95,233.92 L610.4,241.7 L610.85,247.26 L611.3,249.55 L611.75,243.7 L612.2,243.95 L612.65,236.4 L613.1,235.05 L613.55,236.15 L614,235.94 L614.45,235.32 L614.9,237.04 L615.35,235.56 L615.8,242.35 L616.25,235.35 L616.7,234.02 L617.15,233.51 L617.6,233.63 L618.05,236.38 L618.5,235.1 L618.95,235.57 L619.4,236.08 L619.85,234.96 L620.3,244.36 L620.75,235.74 L621.2,236.09 L621.65,237.61 L622.1,239.32 L622.55,238 L623,237.9 L623.45,239.2 L623.9,238.45 L624.35,242.96 L624.8,238.82 L625.25,241.09 L625.7,242.07 L626.15,239.94 L626.6,243 L627.05,243.18 L627.5,241.89 L627.95,241.63 L628.4,244.37 L628.85,242.91 L629.3,244.54 L629.75,242.88 L630.2,244.21 L630.65,243.95 L631.1,244.6 L631.55,247.06 L632,250.2 L632.45,254.96 L632.9,254.21 L633.35,254.13 L633.8,249.88 L634.25,250.6 L634.7,250.37 L635.15,250.18 L635.6,251.87 L636.05,252.97 L636.5,251.92 L636.95,253.97 L637.4,256.14 L637.85,250.16 L638.3,250.55 L638.75,253.97 L639.2,257.86 L639.65,263.27 L640.1,266.1 L640.55,269.81 L641,274.06 L641.45,277.39 L641.9,282.29 L642.35,286.66 L642.8,290.74 L643.25,291.22 L643.7,287.72 L644.15,284.11 L644.6,281.14 L645.05,281.83 L645.5,283.87 L645.95,286.09 L646.4,288.62 L646.85,285.71 L647.3,282.78 L647.75,279.3 L648.2,276.22 L648.65,273.66 L649.1,270.21 L649.55,267.1 L650,263.96 L650.45,261.11 L650.9,258.2 L651.35,257.92 L651.8,258.35 L652.25,258.47 L652.7,259.62 L653.15,257.85 L653.6,256.79 L654.05,255.68 L654.5,254.42 L654.95,253.79 L655.4,253.28 L655.85,252.91 L656.3,253.69 L656.75,253.22 L657.2,253.7 L657.65,254.33 L658.1,254.32 L658.55,254.23 L659,254.12 L659.45,254.78 L659.9,254.48 L660.35,254.68 L660.8,255.22 L661.25,255.07 L661.7,255.46 L662.15,255.54 L662.6,256.3 L663.05,255.97 L663.5,256.37 L663.95,256.77 L664.4,256.84 L664.85,257.05 L665.3,257.21 L665.75,257.53 L666.2,257.25 L666.65,257.71 L667.1,257.52 L667.55,258 L668,257.87 L668.45,257.99 L668.9,258.26 L669.35,258.38 L669.8,258.63 L670.25,259.36 L670.7,259.06 L671.15,259.61 L671.6,259.5 L672.05,259.78 L672.5,260.03 L672.95,260.52 L673.4,260.45 L673.85,260.67 L674.3,260.97 L674.75,261.65 L675.2,261.39 L675.65,262.22 L676.1,262.06 L676.55,262.23 L677,262.23 L677.45,263.02 L677.9,262.98 L678.35,263.03 L678.8,263.57 L679.25,263.4 L679.7,263.8 L680.15,264.34 L680.6,264.15 L681.05,264.48 L681.5,265.22 L681.95,265.21 L682.4,265.15 L682.85,265.33 L683.3,265.53 L683.75,266.38" stroke="#c4c4c4" stroke-width="0.5" fill="none"/>
<path d="M503.3,308.2 L503.3,294.7 L503.75,294.37 L504.2,293.57 L504.65,292.9 L505.1,292.59 L505.55,291.88 L506,291.34 L506.45,292.33 L506.9,290.96 L507.35,290.3 L507.8,289.62 L508.25,289.16 L508.7,289.65 L509.15,288.46 L509.6,288.09 L510.05,287.66 L510.5,289.26 L510.95,292.6 L511.4,292.42 L511.85,288.33 L512.3,284.99 L512.75,283.86 L513.2,281.78 L513.65,279.86 L514.1,276.08 L514.55,275.65 L515,273.64 L515.45,269.64 L515.9,269.06 L516.35,265.43 L516.8,265.87 L517.25,262.08 L517.7,260.54 L518.15,260.79 L518.6,258.55 L519.05,256.39 L519.5,255.2 L519.95,254.19 L520.4,253.47 L520.85,255.29 L521.3,252.12 L521.75,251.21 L522.2,252.72 L522.65,249.76 L523.1,249.42 L523.55,250.83 L524,248.77 L524.45,248.04 L524.9,247.99 L525.35,248.07 L525.8,250.26 L526.25,248.35 L526.7,247.03 L527.15,249.5 L527.6,246.88 L528.05,248.46 L528.5,246.55 L528.95,248.96 L529.4,247 L529.85,246.12 L530.3,246.37 L530.75,246.34 L531.2,247.37 L531.65,246.05 L532.1,245.84 L532.55,247.08 L533,247.27 L533.45,248.64 L533.9,245.69 L534.35,246.62 L534.8,245.91 L535.25,247.17 L535.7,246.61 L536.15,249.37 L536.6,248.15 L537.05,250.05 L537.5,249.53 L537.95,256.52 L538.4,248.07 L538.85,247.76 L539.3,247.48 L539.75,249.67 L540.2,249.89 L540.65,250.36 L541.1,248.93 L541.55,251.34 L542,249.61 L542.45,251.64 L542.9,250.84 L543.35,250.94 L543.8,249.89 L544.25,253.32 L544.7,252.35 L545.15,252.66 L545.6,251.82 L546.05,251.3 L546.5,251.54 L546.95,252.81 L547.4,253.9 L547.85,253.87 L548.3,257.65 L548.75,254.72 L549.2,253.53 L549.65,255.25 L550.1,256.56 L550.55,255.97 L551,255.55 L551.45,257.8 L551.9,256.23 L552.35,256.48 L552.8,257.4 L553.25,259.14 L553.7,260.02 L554.15,257.91 L554.6,258.55 L555.05,259.33 L555.5,259.96 L555.95,261.6 L556.4,260.65 L556.85,260.28 L557.3,260.69 L557.75,262.22 L558.2,266.71 L558.65,268.82 L559.1,262.59 L559.55,262.75 L560,263.61 L560.45,264.41 L560.9,265.53 L561.35,264.47 L561.8,267.71 L562.25,266.11 L562.7,265.74 L563.15,266.85 L563.6,267.08 L564.05,267.1 L564.5,268.51 L564.95,268.97 L565.4,268.09 L565.85,269.25 L566.3,269.32 L566.75,270.72 L567.2,271.34 L567.65,271.18 L568.1,273 L568.55,273.83 L569,271.66 L569.45,273.28 L569.9,272.74 L570.35,272.78 L570.8,273.96 L571.25,273.19 L571.7,274 L572.15,277.25 L572.6,274.04 L573.05,274.37 L573.5,275.47 L573.95,274.84 L574.4,275.8 L574.85,275.97 L575.3,275.99 L575.75,275.97 L576.2,276.79 L576.65,277.47 L577.1,277.5 L577.55,279.26 L578,281.79 L578.45,282.63 L578.9,280.42 L579.35,279.11 L579.8,279 L580.25,279.57 L580.7,279.41 L581.15,280.08 L581.6,280.8 L582.05,280.62 L582.5,280.52 L582.95,281.08 L583.4,282.1 L583.85,281.7 L584.3,282.05 L584.75,283.12 L585.2,282.71 L585.65,283.45 L586.1,283.35 L586.55,284.33 L587,285.62 L587.45,286.64 L587.9,286.04 L588.35,285.25 L588.8,284.47 L589.25,284.25 L589.7,284.52 L590.15,284.56 L590.6,284.44 L591.05,284.99 L591.5,284.94 L591.95,285.12 L592.4,284.81 L592.85,285.54 L593.3,285.01 L593.75,285.86 L594.2,286.11 L594.65,285.21 L595.1,285.91 L595.55,285.41 L596,287.15 L596.45,290.17 L596.9,300.13 L597.35,302.75 L597.8,294.26 L598.25,290 L598.7,287.89 L599.15,286.73 L599.6,288.64 L600.05,287.05 L600.5,286.89 L600.95,286.98 L601.4,287.7 L601.85,287.09 L602.3,287.92 L602.75,287.89 L603.2,287.79 L603.65,287.92 L604.1,287.88 L604.55,288.54 L605,288.24 L605.45,288.24 L605.9,288.13 L606.35,288.11 L606.8,288.65 L607.25,288.73 L607.7,288.33 L608.15,288.46 L608.6,288.9 L609.05,289.17 L609.5,289.18 L609.95,289.45 L610.4,291.35 L610.85,292.71 L611.3,293.23 L611.75,291.67 L612.2,291.67 L612.65,289.65 L613.1,289.21 L613.55,289.41 L614,289.26 L614.45,289.01 L614.9,289.36 L615.35,288.87 L615.8,290.59 L616.25,288.61 L616.7,288.14 L617.15,287.89 L617.6,287.81 L618.05,288.46 L618.5,287.99 L618.95,288.01 L619.4,288.03 L619.85,287.6 L620.3,290.14 L620.75,287.57 L621.2,287.54 L621.65,287.84 L622.1,288.21 L622.55,287.69 L623,287.52 L623.45,287.77 L623.9,287.41 L624.35,288.63 L624.8,287.26 L625.25,287.83 L625.7,288.02 L626.15,287.26 L626.6,288.1 L627.05,288.06 L627.5,287.56 L627.95,287.39 L628.4,288.15 L628.85,287.6 L629.3,288.03 L629.75,287.42 L630.2,287.75 L630.65,287.59 L631.1,287.71 L631.55,288.43 L632,289.37 L632.45,290.85 L632.9,290.54 L633.35,290.44 L633.8,288.98 L634.25,289.16 L634.7,289.02 L635.15,288.9 L635.6,289.41 L636.05,289.73 L636.5,289.34 L636.95,290 L637.4,290.69 L637.85,288.65 L638.3,288.75 L638.75,289.88 L639.2,291.17 L639.65,292.99 L640.1,293.94 L640.55,295.2 L641,296.64 L641.45,297.78 L641.9,299.45 L642.35,300.94 L642.8,302.33 L643.25,302.5 L643.7,301.35 L644.15,300.16 L644.6,299.2 L645.05,299.45 L645.5,300.15 L645.95,300.9 L646.4,301.76 L646.85,300.82 L647.3,299.89 L647.75,298.77 L648.2,297.8 L648.65,296.98 L649.1,295.88 L649.55,294.88 L650,293.85 L650.45,292.91 L650.9,291.93 L651.35,291.81 L651.8,291.91 L652.25,291.92 L652.7,292.26 L653.15,291.64 L653.6,291.25 L654.05,290.84 L654.5,290.38 L654.95,290.12 L655.4,289.91 L655.85,289.75 L656.3,289.97 L656.75,289.77 L657.2,289.89 L657.65,290.06 L658.1,290.02 L658.55,289.95 L659,289.87 L659.45,290.05 L659.9,289.91 L660.35,289.94 L660.8,290.09 L661.25,290 L661.7,290.1 L662.15,290.09 L662.6,290.32 L663.05,290.18 L663.5,290.29 L663.95,290.4 L664.4,290.4 L664.85,290.45 L665.3,290.49 L665.75,290.58 L666.2,290.47 L666.65,290.61 L667.1,290.53 L667.55,290.68 L668,290.62 L668.45,290.65 L668.9,290.74 L669.35,290.77 L669.8,290.85 L670.25,291.1 L670.7,290.99 L671.15,291.19 L671.6,291.15 L672.05,291.25 L672.5,291.35 L672.95,291.53 L673.4,291.52 L673.85,291.61 L674.3,291.74 L674.75,292.01 L675.2,291.95 L675.65,292.27 L676.1,292.25 L676.55,292.35 L677,292.39 L677.45,292.7 L677.9,292.73 L678.35,292.79 L678.8,293.02 L679.25,293 L679.7,293.18 L680.15,293.41 L680.6,293.39 L681.05,293.55 L681.5,293.84 L681.95,293.89 L682.4,293.91 L682.85,294.02 L683.3,294.13 L683.75,294.43 L683.75,308.2 Z" fill="url(#gred)"/>
<path d="M503.3,294.7 L503.75,294.37 L504.2,293.57 L504.65,292.9 L505.1,292.59 L505.55,291.88 L506,291.34 L506.45,292.33 L506.9,290.96 L507.35,290.3 L507.8,289.62 L508.25,289.16 L508.7,289.65 L509.15,288.46 L509.6,288.09 L510.05,287.66 L510.5,289.26 L510.95,292.6 L511.4,292.42 L511.85,288.33 L512.3,284.99 L512.75,283.86 L513.2,281.78 L513.65,279.86 L514.1,276.08 L514.55,275.65 L515,273.64 L515.45,269.64 L515.9,269.06 L516.35,265.43 L516.8,265.87 L517.25,262.08 L517.7,260.54 L518.15,260.79 L518.6,258.55 L519.05,256.39 L519.5,255.2 L519.95,254.19 L520.4,253.47 L520.85,255.29 L521.3,252.12 L521.75,251.21 L522.2,252.72 L522.65,249.76 L523.1,249.42 L523.55,250.83 L524,248.77 L524.45,248.04 L524.9,247.99 L525.35,248.07 L525.8,250.26 L526.25,248.35 L526.7,247.03 L527.15,249.5 L527.6,246.88 L528.05,248.46 L528.5,246.55 L528.95,248.96 L529.4,247 L529.85,246.12 L530.3,246.37 L530.75,246.34 L531.2,247.37 L531.65,246.05 L532.1,245.84 L532.55,247.08 L533,247.27 L533.45,248.64 L533.9,245.69 L534.35,246.62 L534.8,245.91 L535.25,247.17 L535.7,246.61 L536.15,249.37 L536.6,248.15 L537.05,250.05 L537.5,249.53 L537.95,256.52 L538.4,248.07 L538.85,247.76 L539.3,247.48 L539.75,249.67 L540.2,249.89 L540.65,250.36 L541.1,248.93 L541.55,251.34 L542,249.61 L542.45,251.64 L542.9,250.84 L543.35,250.94 L543.8,249.89 L544.25,253.32 L544.7,252.35 L545.15,252.66 L545.6,251.82 L546.05,251.3 L546.5,251.54 L546.95,252.81 L547.4,253.9 L547.85,253.87 L548.3,257.65 L548.75,254.72 L549.2,253.53 L549.65,255.25 L550.1,256.56 L550.55,255.97 L551,255.55 L551.45,257.8 L551.9,256.23 L552.35,256.48 L552.8,257.4 L553.25,259.14 L553.7,260.02 L554.15,257.91 L554.6,258.55 L555.05,259.33 L555.5,259.96 L555.95,261.6 L556.4,260.65 L556.85,260.28 L557.3,260.69 L557.75,262.22 L558.2,266.71 L558.65,268.82 L559.1,262.59 L559.55,262.75 L560,263.61 L560.45,264.41 L560.9,265.53 L561.35,264.47 L561.8,267.71 L562.25,266.11 L562.7,265.74 L563.15,266.85 L563.6,267.08 L564.05,267.1 L564.5,268.51 L564.95,268.97 L565.4,268.09 L565.85,269.25 L566.3,269.32 L566.75,270.72 L567.2,271.34 L567.65,271.18 L568.1,273 L568.55,273.83 L569,271.66 L569.45,273.28 L569.9,272.74 L570.35,272.78 L570.8,273.96 L571.25,273.19 L571.7,274 L572.15,277.25 L572.6,274.04 L573.05,274.37 L573.5,275.47 L573.95,274.84 L574.4,275.8 L574.85,275.97 L575.3,275.99 L575.75,275.97 L576.2,276.79 L576.65,277.47 L577.1,277.5 L577.55,279.26 L578,281.79 L578.45,282.63 L578.9,280.42 L579.35,279.11 L579.8,279 L580.25,279.57 L580.7,279.41 L581.15,280.08 L581.6,280.8 L582.05,280.62 L582.5,280.52 L582.95,281.08 L583.4,282.1 L583.85,281.7 L584.3,282.05 L584.75,283.12 L585.2,282.71 L585.65,283.45 L586.1,283.35 L586.55,284.33 L587,285.62 L587.45,286.64 L587.9,286.04 L588.35,285.25 L588.8,284.47 L589.25,284.25 L589.7,284.52 L590.15,284.56 L590.6,284.44 L591.05,284.99 L591.5,284.94 L591.95,285.12 L592.4,284.81 L592.85,285.54 L593.3,285.01 L593.75,285.86 L594.2,286.11 L594.65,285.21 L595.1,285.91 L595.55,285.41 L596,287.15 L596.45,290.17 L596.9,300.13 L597.35,302.75 L597.8,294.26 L598.25,290 L598.7,287.89 L599.15,286.73 L599.6,288.64 L600.05,287.05 L600.5,286.89 L600.95,286.98 L601.4,287.7 L601.85,287.09 L602.3,287.92 L602.75,287.89 L603.2,287.79 L603.65,287.92 L604.1,287.88 L604.55,288.54 L605,288.24 L605.45,288.24 L605.9,288.13 L606.35,288.11 L606.8,288.65 L607.25,288.73 L607.7,288.33 L608.15,288.46 L608.6,288.9 L609.05,289.17 L609.5,289.18 L609.95,289.45 L610.4,291.35 L610.85,292.71 L611.3,293.23 L611.75,291.67 L612.2,291.67 L612.65,289.65 L613.1,289.21 L613.55,289.41 L614,289.26 L614.45,289.01 L614.9,289.36 L615.35,288.87 L615.8,290.59 L616.25,288.61 L616.7,288.14 L617.15,287.89 L617.6,287.81 L618.05,288.46 L618.5,287.99 L618.95,288.01 L619.4,288.03 L619.85,287.6 L620.3,290.14 L620.75,287.57 L621.2,287.54 L621.65,287.84 L622.1,288.21 L622.55,287.69 L623,287.52 L623.45,287.77 L623.9,287.41 L624.35,288.63 L624.8,287.26 L625.25,287.83 L625.7,288.02 L626.15,287.26 L626.6,288.1 L627.05,288.06 L627.5,287.56 L627.95,287.39 L628.4,288.15 L628.85,287.6 L629.3,288.03 L629.75,287.42 L630.2,287.75 L630.65,287.59 L631.1,287.71 L631.55,288.43 L632,289.37 L632.45,290.85 L632.9,290.54 L633.35,290.44 L633.8,288.98 L634.25,289.16 L634.7,289.02 L635.15,288.9 L635.6,289.41 L636.05,289.73 L636.5,289.34 L636.95,290 L637.4,290.69 L637.85,288.65 L638.3,288.75 L638.75,289.88 L639.2,291.17 L639.65,292.99 L640.1,293.94 L640.55,295.2 L641,296.64 L641.45,297.78 L641.9,299.45 L642.35,300.94 L642.8,302.33 L643.25,302.5 L643.7,301.35 L644.15,300.16 L644.6,299.2 L645.05,299.45 L645.5,300.15 L645.95,300.9 L646.4,301.76 L646.85,300.82 L647.3,299.89 L647.75,298.77 L648.2,297.8 L648.65,296.98 L649.1,295.88 L649.55,294.88 L650,293.85 L650.45,292.91 L650.9,291.93 L651.35,291.81 L651.8,291.91 L652.25,291.92 L652.7,292.26 L653.15,291.64 L653.6,291.25 L654.05,290.84 L654.5,290.38 L654.95,290.12 L655.4,289.91 L655.85,289.75 L656.3,289.97 L656.75,289.77 L657.2,289.89 L657.65,290.06 L658.1,290.02 L658.55,289.95 L659,289.87 L659.45,290.05 L659.9,289.91 L660.35,289.94 L660.8,290.09 L661.25,290 L661.7,290.1 L662.15,290.09 L662.6,290.32 L663.05,290.18 L663.5,290.29 L663.95,290.4 L664.4,290.4 L664.85,290.45 L665.3,290.49 L665.75,290.58 L666.2,290.47 L666.65,290.61 L667.1,290.53 L667.55,290.68 L668,290.62 L668.45,290.65 L668.9,290.74 L669.35,290.77 L669.8,290.85 L670.25,291.1 L670.7,290.99 L671.15,291.19 L671.6,291.15 L672.05,291.25 L672.5,291.35 L672.95,291.53 L673.4,291.52 L673.85,291.61 L674.3,291.74 L674.75,292.01 L675.2,291.95 L675.65,292.27 L676.1,292.25 L676.55,292.35 L677,292.39 L677.45,292.7 L677.9,292.73 L678.35,292.79 L678.8,293.02 L679.25,293 L679.7,293.18 L680.15,293.41 L680.6,293.39 L681.05,293.55 L681.5,293.84 L681.95,293.89 L682.4,293.91 L682.85,294.02 L683.3,294.13 L683.75,294.43" stroke="#e8707a" stroke-width="0.5" fill="none"/>
<path d="M503.3,308.2 L503.3,299.45 L503.75,299.21 L504.2,298.66 L504.65,298.2 L505.1,297.97 L505.55,297.49 L506,297.14 L506.45,297.78 L506.9,296.89 L507.35,296.48 L507.8,296.06 L508.25,295.79 L508.7,296.15 L509.15,295.44 L509.6,295.28 L510.05,295.1 L510.5,296.22 L510.95,298.44 L511.4,298.46 L511.85,296.11 L512.3,294.31 L512.75,293.9 L513.2,292.97 L513.65,292.21 L514.1,290.5 L514.55,290.72 L515,290.12 L515.45,288.55 L515.9,288.76 L516.35,287.51 L516.8,288.24 L517.25,286.98 L517.7,286.76 L518.15,287.35 L518.6,286.81 L519.05,286.25 L519.5,286.05 L519.95,285.9 L520.4,285.85 L520.85,286.8 L521.3,285.73 L521.75,285.58 L522.2,286.38 L522.65,285.42 L523.1,285.49 L523.55,286.22 L524,285.62 L524.45,285.52 L524.9,285.7 L525.35,285.92 L525.8,286.92 L526.25,286.42 L526.7,286.14 L527.15,287.23 L527.6,286.49 L528.05,287.26 L528.5,286.81 L528.95,287.87 L529.4,287.44 L529.85,287.4 L530.3,287.75 L530.75,288.01 L531.2,288.63 L531.65,288.49 L532.1,288.72 L532.55,289.4 L533,289.75 L533.45,290.46 L533.9,289.9 L534.35,290.48 L534.8,290.61 L535.25,291.29 L535.7,291.46 L536.15,292.52 L536.6,292.51 L537.05,293.31 L537.5,293.46 L537.95,295.47 L538.4,293.67 L538.85,293.88 L539.3,294.09 L539.75,294.87 L540.2,295.17 L540.65,295.53 L541.1,295.47 L541.55,296.22 L542,296.1 L542.45,296.74 L542.9,296.81 L543.35,297.05 L543.8,297.07 L544.25,297.92 L544.7,297.94 L545.15,298.19 L545.6,298.22 L546.05,298.31 L546.5,298.51 L546.95,298.89 L547.4,299.21 L547.85,299.34 L548.3,300.08 L548.75,299.73 L549.2,299.66 L549.65,300.04 L550.1,300.35 L550.55,300.37 L551,300.41 L551.45,300.83 L551.9,300.69 L552.35,300.81 L552.8,301.02 L553.25,301.34 L553.7,301.52 L554.15,301.29 L554.6,301.43 L555.05,301.58 L555.5,301.71 L555.95,301.96 L556.4,301.87 L556.85,301.84 L557.3,301.92 L557.75,302.14 L558.2,302.75 L558.65,303.04 L559.1,302.23 L559.55,302.26 L560,302.37 L560.45,302.48 L560.9,302.62 L561.35,302.47 L561.8,302.89 L562.25,302.66 L562.7,302.6 L563.15,302.74 L563.6,302.75 L564.05,302.73 L564.5,302.9 L564.95,302.94 L565.4,302.8 L565.85,302.93 L566.3,302.91 L566.75,303.07 L567.2,303.12 L567.65,303.06 L568.1,303.27 L568.55,303.35 L569,303 L569.45,303.18 L569.9,303.06 L570.35,303.02 L570.8,303.14 L571.25,302.98 L571.7,303.05 L572.15,303.49 L572.6,302.95 L573.05,302.94 L573.5,303.05 L573.95,302.89 L574.4,302.98 L574.85,302.94 L575.3,302.87 L575.75,302.8 L576.2,302.87 L576.65,302.91 L577.1,302.85 L577.55,303.08 L578,303.47 L578.45,303.55 L578.9,303.08 L579.35,302.76 L579.8,302.66 L580.25,302.68 L580.7,302.56 L581.15,302.6 L581.6,302.66 L582.05,302.53 L582.5,302.42 L582.95,302.45 L583.4,302.57 L583.85,302.39 L584.3,302.38 L584.75,302.52 L585.2,302.34 L585.65,302.41 L586.1,302.29 L586.55,302.42 L587,302.64 L587.45,302.8 L587.9,302.56 L588.35,302.26 L588.8,301.95 L589.25,301.79 L589.7,301.76 L590.15,301.68 L590.6,301.55 L591.05,301.61 L591.5,301.5 L591.95,301.47 L592.4,301.28 L592.85,301.41 L593.3,301.16 L593.75,301.33 L594.2,301.31 L594.65,300.94 L595.1,301.06 L595.55,300.8 L596,301.27 L596.45,302.18 L596.9,305.46 L597.35,306.33 L597.8,303.33 L598.25,301.75 L598.7,300.9 L599.15,300.37 L599.6,300.97 L600.05,300.27 L600.5,300.1 L600.95,300.03 L601.4,300.21 L601.85,299.87 L602.3,300.1 L602.75,299.99 L603.2,299.85 L603.65,299.81 L604.1,299.7 L604.55,299.89 L605,299.68 L605.45,299.6 L605.9,299.48 L606.35,299.41 L606.8,299.58 L607.25,299.56 L607.7,299.33 L608.15,299.33 L608.6,299.48 L609.05,299.56 L609.5,299.53 L609.95,299.61 L610.4,300.46 L610.85,301.06 L611.3,301.28 L611.75,300.54 L612.2,300.52 L612.65,299.57 L613.1,299.35 L613.55,299.44 L614,299.36 L614.45,299.24 L614.9,299.41 L615.35,299.18 L615.8,299.98 L616.25,299.06 L616.7,298.85 L617.15,298.75 L617.6,298.72 L618.05,299.03 L618.5,298.83 L618.95,298.86 L619.4,298.89 L619.85,298.71 L620.3,299.9 L620.75,298.74 L621.2,298.75 L621.65,298.92 L622.1,299.11 L622.55,298.91 L623,298.86 L623.45,299.01 L623.9,298.88 L624.35,299.45 L624.8,298.87 L625.25,299.15 L625.7,299.26 L626.15,298.94 L626.6,299.33 L627.05,299.34 L627.5,299.14 L627.95,299.08 L628.4,299.43 L628.85,299.21 L629.3,299.41 L629.75,299.16 L630.2,299.33 L630.65,299.27 L631.1,299.34 L631.55,299.66 L632,300.09 L632.45,300.74 L632.9,300.62 L633.35,300.59 L633.8,299.98 L634.25,300.06 L634.7,300.02 L635.15,299.98 L635.6,300.21 L636.05,300.36 L636.5,300.21 L636.95,300.5 L637.4,300.8 L637.85,299.96 L638.3,300.02 L638.75,300.52 L639.2,301.08 L639.65,301.86 L640.1,302.27 L640.55,302.8 L641,303.41 L641.45,303.88 L641.9,304.58 L642.35,305.19 L642.8,305.77 L643.25,305.84 L643.7,305.36 L644.15,304.87 L644.6,304.46 L645.05,304.57 L645.5,304.85 L645.95,305.17 L646.4,305.52 L646.85,305.13 L647.3,304.73 L647.75,304.26 L648.2,303.85 L648.65,303.51 L649.1,303.04 L649.55,302.62 L650,302.2 L650.45,301.8 L650.9,301.4 L651.35,301.35 L651.8,301.39 L652.25,301.39 L652.7,301.53 L653.15,301.27 L653.6,301.1 L654.05,300.94 L654.5,300.75 L654.95,300.64 L655.4,300.56 L655.85,300.49 L656.3,300.58 L656.75,300.5 L657.2,300.55 L657.65,300.62 L658.1,300.6 L658.55,300.57 L659,300.53 L659.45,300.6 L659.9,300.53 L660.35,300.54 L660.8,300.59 L661.25,300.54 L661.7,300.57 L662.15,300.55 L662.6,300.64 L663.05,300.56 L663.5,300.59 L663.95,300.63 L664.4,300.61 L664.85,300.62 L665.3,300.62 L665.75,300.65 L666.2,300.59 L666.65,300.63 L667.1,300.58 L667.55,300.64 L668,300.6 L668.45,300.6 L668.9,300.62 L669.35,300.62 L669.8,300.64 L670.25,300.74 L670.7,300.68 L671.15,300.75 L671.6,300.72 L672.05,300.75 L672.5,300.78 L672.95,300.85 L673.4,300.84 L673.85,300.87 L674.3,300.91 L674.75,301.02 L675.2,300.98 L675.65,301.11 L676.1,301.08 L676.55,301.11 L677,301.12 L677.45,301.24 L677.9,301.24 L678.35,301.26 L678.8,301.35 L679.25,301.34 L679.7,301.41 L680.15,301.5 L680.6,301.49 L681.05,301.55 L681.5,301.68 L681.95,301.69 L682.4,301.7 L682.85,301.74 L683.3,301.79 L683.75,301.92 L683.75,308.2 Z" fill="url(#gblue)"/>
<path d="M503.3,299.45 L503.75,299.21 L504.2,298.66 L504.65,298.2 L505.1,297.97 L505.55,297.49 L506,297.14 L506.45,297.78 L506.9,296.89 L507.35,296.48 L507.8,296.06 L508.25,295.79 L508.7,296.15 L509.15,295.44 L509.6,295.28 L510.05,295.1 L510.5,296.22 L510.95,298.44 L511.4,298.46 L511.85,296.11 L512.3,294.31 L512.75,293.9 L513.2,292.97 L513.65,292.21 L514.1,290.5 L514.55,290.72 L515,290.12 L515.45,288.55 L515.9,288.76 L516.35,287.51 L516.8,288.24 L517.25,286.98 L517.7,286.76 L518.15,287.35 L518.6,286.81 L519.05,286.25 L519.5,286.05 L519.95,285.9 L520.4,285.85 L520.85,286.8 L521.3,285.73 L521.75,285.58 L522.2,286.38 L522.65,285.42 L523.1,285.49 L523.55,286.22 L524,285.62 L524.45,285.52 L524.9,285.7 L525.35,285.92 L525.8,286.92 L526.25,286.42 L526.7,286.14 L527.15,287.23 L527.6,286.49 L528.05,287.26 L528.5,286.81 L528.95,287.87 L529.4,287.44 L529.85,287.4 L530.3,287.75 L530.75,288.01 L531.2,288.63 L531.65,288.49 L532.1,288.72 L532.55,289.4 L533,289.75 L533.45,290.46 L533.9,289.9 L534.35,290.48 L534.8,290.61 L535.25,291.29 L535.7,291.46 L536.15,292.52 L536.6,292.51 L537.05,293.31 L537.5,293.46 L537.95,295.47 L538.4,293.67 L538.85,293.88 L539.3,294.09 L539.75,294.87 L540.2,295.17 L540.65,295.53 L541.1,295.47 L541.55,296.22 L542,296.1 L542.45,296.74 L542.9,296.81 L543.35,297.05 L543.8,297.07 L544.25,297.92 L544.7,297.94 L545.15,298.19 L545.6,298.22 L546.05,298.31 L546.5,298.51 L546.95,298.89 L547.4,299.21 L547.85,299.34 L548.3,300.08 L548.75,299.73 L549.2,299.66 L549.65,300.04 L550.1,300.35 L550.55,300.37 L551,300.41 L551.45,300.83 L551.9,300.69 L552.35,300.81 L552.8,301.02 L553.25,301.34 L553.7,301.52 L554.15,301.29 L554.6,301.43 L555.05,301.58 L555.5,301.71 L555.95,301.96 L556.4,301.87 L556.85,301.84 L557.3,301.92 L557.75,302.14 L558.2,302.75 L558.65,303.04 L559.1,302.23 L559.55,302.26 L560,302.37 L560.45,302.48 L560.9,302.62 L561.35,302.47 L561.8,302.89 L562.25,302.66 L562.7,302.6 L563.15,302.74 L563.6,302.75 L564.05,302.73 L564.5,302.9 L564.95,302.94 L565.4,302.8 L565.85,302.93 L566.3,302.91 L566.75,303.07 L567.2,303.12 L567.65,303.06 L568.1,303.27 L568.55,303.35 L569,303 L569.45,303.18 L569.9,303.06 L570.35,303.02 L570.8,303.14 L571.25,302.98 L571.7,303.05 L572.15,303.49 L572.6,302.95 L573.05,302.94 L573.5,303.05 L573.95,302.89 L574.4,302.98 L574.85,302.94 L575.3,302.87 L575.75,302.8 L576.2,302.87 L576.65,302.91 L577.1,302.85 L577.55,303.08 L578,303.47 L578.45,303.55 L578.9,303.08 L579.35,302.76 L579.8,302.66 L580.25,302.68 L580.7,302.56 L581.15,302.6 L581.6,302.66 L582.05,302.53 L582.5,302.42 L582.95,302.45 L583.4,302.57 L583.85,302.39 L584.3,302.38 L584.75,302.52 L585.2,302.34 L585.65,302.41 L586.1,302.29 L586.55,302.42 L587,302.64 L587.45,302.8 L587.9,302.56 L588.35,302.26 L588.8,301.95 L589.25,301.79 L589.7,301.76 L590.15,301.68 L590.6,301.55 L591.05,301.61 L591.5,301.5 L591.95,301.47 L592.4,301.28 L592.85,301.41 L593.3,301.16 L593.75,301.33 L594.2,301.31 L594.65,300.94 L595.1,301.06 L595.55,300.8 L596,301.27 L596.45,302.18 L596.9,305.46 L597.35,306.33 L597.8,303.33 L598.25,301.75 L598.7,300.9 L599.15,300.37 L599.6,300.97 L600.05,300.27 L600.5,300.1 L600.95,300.03 L601.4,300.21 L601.85,299.87 L602.3,300.1 L602.75,299.99 L603.2,299.85 L603.65,299.81 L604.1,299.7 L604.55,299.89 L605,299.68 L605.45,299.6 L605.9,299.48 L606.35,299.41 L606.8,299.58 L607.25,299.56 L607.7,299.33 L608.15,299.33 L608.6,299.48 L609.05,299.56 L609.5,299.53 L609.95,299.61 L610.4,300.46 L610.85,301.06 L611.3,301.28 L611.75,300.54 L612.2,300.52 L612.65,299.57 L613.1,299.35 L613.55,299.44 L614,299.36 L614.45,299.24 L614.9,299.41 L615.35,299.18 L615.8,299.98 L616.25,299.06 L616.7,298.85 L617.15,298.75 L617.6,298.72 L618.05,299.03 L618.5,298.83 L618.95,298.86 L619.4,298.89 L619.85,298.71 L620.3,299.9 L620.75,298.74 L621.2,298.75 L621.65,298.92 L622.1,299.11 L622.55,298.91 L623,298.86 L623.45,299.01 L623.9,298.88 L624.35,299.45 L624.8,298.87 L625.25,299.15 L625.7,299.26 L626.15,298.94 L626.6,299.33 L627.05,299.34 L627.5,299.14 L627.95,299.08 L628.4,299.43 L628.85,299.21 L629.3,299.41 L629.75,299.16 L630.2,299.33 L630.65,299.27 L631.1,299.34 L631.55,299.66 L632,300.09 L632.45,300.74 L632.9,300.62 L633.35,300.59 L633.8,299.98 L634.25,300.06 L634.7,300.02 L635.15,299.98 L635.6,300.21 L636.05,300.36 L636.5,300.21 L636.95,300.5 L637.4,300.8 L637.85,299.96 L638.3,300.02 L638.75,300.52 L639.2,301.08 L639.65,301.86 L640.1,302.27 L640.55,302.8 L641,303.41 L641.45,303.88 L641.9,304.58 L642.35,305.19 L642.8,305.77 L643.25,305.84 L643.7,305.36 L644.15,304.87 L644.6,304.46 L645.05,304.57 L645.5,304.85 L645.95,305.17 L646.4,305.52 L646.85,305.13 L647.3,304.73 L647.75,304.26 L648.2,303.85 L648.65,303.51 L649.1,303.04 L649.55,302.62 L650,302.2 L650.45,301.8 L650.9,301.4 L651.35,301.35 L651.8,301.39 L652.25,301.39 L652.7,301.53 L653.15,301.27 L653.6,301.1 L654.05,300.94 L654.5,300.75 L654.95,300.64 L655.4,300.56 L655.85,300.49 L656.3,300.58 L656.75,300.5 L657.2,300.55 L657.65,300.62 L658.1,300.6 L658.55,300.57 L659,300.53 L659.45,300.6 L659.9,300.53 L660.35,300.54 L660.8,300.59 L661.25,300.54 L661.7,300.57 L662.15,300.55 L662.6,300.64 L663.05,300.56 L663.5,300.59 L663.95,300.63 L664.4,300.61 L664.85,300.62 L665.3,300.62 L665.75,300.65 L666.2,300.59 L666.65,300.63 L667.1,300.58 L667.55,300.64 L668,300.6 L668.45,300.6 L668.9,300.62 L669.35,300.62 L669.8,300.64 L670.25,300.74 L670.7,300.68 L671.15,300.75 L671.6,300.72 L672.05,300.75 L672.5,300.78 L672.95,300.85 L673.4,300.84 L673.85,300.87 L674.3,300.91 L674.75,301.02 L675.2,300.98 L675.65,301.11 L676.1,301.08 L676.55,301.11 L677,301.12 L677.45,301.24 L677.9,301.24 L678.35,301.26 L678.8,301.35 L679.25,301.34 L679.7,301.41 L680.15,301.5 L680.6,301.49 L681.05,301.55 L681.5,301.68 L681.95,301.69 L682.4,301.7 L682.85,301.74 L683.3,301.79 L683.75,301.92" stroke="#6d94c4" stroke-width="0.5" fill="none"/>
<path d="M503.3,308.2 V311 M554.99,308.2 V311 M606.67,308.2 V311 M658.36,308.2 V311 M529.14,308.2 V309.8 M580.83,308.2 V309.8 M632.51,308.2 V309.8 M684.2,308.2 V309.8 M503.3,308.2 H500.4 M503.3,278.71 H500.4 M503.3,249.22 H500.4 M503.3,219.73 H500.4 M503.3,190.24 H500.4 M503.3,293.46 H501.7 M503.3,263.97 H501.7 M503.3,234.48 H501.7 M503.3,204.99 H501.7 " stroke="#0d0d0d" stroke-width="1.0" fill="none"/>
<rect x="503.3" y="175.5" width="180.9" height="132.7" fill="none" stroke="#0d0d0d" stroke-width="1.3"/>
<text x="503.3" y="318.6" font-size="7" text-anchor="middle" font-weight="normal" fill="#2a2a2a">400</text>
<text x="554.99" y="318.6" font-size="7" text-anchor="middle" font-weight="normal" fill="#2a2a2a">600</text>
<text x="606.67" y="318.6" font-size="7" text-anchor="middle" font-weight="normal" fill="#2a2a2a">800</text>
<text x="658.36" y="318.6" font-size="7" text-anchor="middle" font-weight="normal" fill="#2a2a2a">1000</text>
<text x="499.3" y="310.7" font-size="7" text-anchor="end" font-weight="normal" fill="#2a2a2a">0.0</text>
<text x="499.3" y="281.21" font-size="7" text-anchor="end" font-weight="normal" fill="#2a2a2a">0.4</text>
<text x="499.3" y="251.72" font-size="7" text-anchor="end" font-weight="normal" fill="#2a2a2a">0.8</text>
<text x="499.3" y="222.23" font-size="7" text-anchor="end" font-weight="normal" fill="#2a2a2a">1.2</text>
<text x="499.3" y="192.74" font-size="7" text-anchor="end" font-weight="normal" fill="#2a2a2a">1.6</text>
<text x="594.3" y="330.8" font-size="8.4" text-anchor="middle" font-weight="normal" fill="#1a1a1a">Wavelength (nm)</text>
<text transform="translate(483.6,248.3) rotate(-90)" font-size="8.4" text-anchor="middle" fill="#1a1a1a">Irradiance (W·m<tspan font-size="5.4" dy="-3">-2</tspan><tspan dy="3">·nm</tspan><tspan font-size="5.4" dy="-3">-1</tspan><tspan dy="3">)</tspan></text>
<rect x="602.3" y="185.7" width="15.7" height="7.4" fill="url(#sgray)" stroke="#9a9a9a" stroke-width="0.5"/>
<text x="619.9" y="191.8" font-size="7" text-anchor="start" font-weight="normal" fill="#1a1a1a">AM 1.5G</text>
<rect x="602.3" y="195.7" width="15.7" height="7.4" fill="url(#sred)" stroke="#9a9a9a" stroke-width="0.5"/>
<text x="619.9" y="201.8" font-size="7" text-anchor="start" font-weight="normal" fill="#1a1a1a">Discharged state</text>
<rect x="602.3" y="205.7" width="15.7" height="7.4" fill="url(#sblue)" stroke="#9a9a9a" stroke-width="0.5"/>
<text x="619.9" y="211.8" font-size="7" text-anchor="start" font-weight="normal" fill="#1a1a1a">Charged state</text>
<clipPath id="cp1"><rect x="3.2" y="186" width="121.1" height="120.6"/></clipPath>
<g clip-path="url(#cp1)" style="isolation:isolate">
<rect x="3.2" y="186" width="121.1" height="120.6" fill="#f6f6f4"/>
<circle cx="17.6" cy="198.2" r="12.4" fill="#86802c"/>
<circle cx="17.6" cy="198.2" r="11.7" fill="#e0cf46"/>
<circle cx="17.6" cy="198.2" r="10.2" fill="none" stroke="#86802c" stroke-width="0.9" stroke-dasharray="0.8 0.9"/>
<circle cx="17.6" cy="198.2" r="8.8" fill="#fafaf4" stroke="#86802c" stroke-width="0.5"/>
<path d="M9.74,194.97 L25.46,194.97 L17.6,206.47 Z" fill="#2f6a2c"/>
<circle cx="17.6" cy="199.41" r="3.33" fill="#e0cf46"/>
<rect x="16.09" y="197.9" width="3.02" height="3.02" fill="#86802c"/>
<rect x="13.06" y="191.55" width="9.07" height="2.02" fill="#4b4b3a"/>
<circle cx="116.6" cy="198" r="12.4" fill="#86802c"/>
<circle cx="116.6" cy="198" r="11.7" fill="#e0cf46"/>
<circle cx="116.6" cy="198" r="10.2" fill="none" stroke="#86802c" stroke-width="0.9" stroke-dasharray="0.8 0.9"/>
<circle cx="116.6" cy="198" r="8.8" fill="#fafaf4" stroke="#86802c" stroke-width="0.5"/>
<path d="M108.74,194.77 L124.46,194.77 L116.6,206.27 Z" fill="#2f6a2c"/>
<circle cx="116.6" cy="199.21" r="3.33" fill="#e0cf46"/>
<rect x="115.09" y="197.7" width="3.02" height="3.02" fill="#86802c"/>
<rect x="112.06" y="191.35" width="9.07" height="2.02" fill="#4b4b3a"/>
<circle cx="71" cy="233" r="12.4" fill="#86802c"/>
<circle cx="71" cy="233" r="11.7" fill="#e0cf46"/>
<circle cx="71" cy="233" r="10.2" fill="none" stroke="#86802c" stroke-width="0.9" stroke-dasharray="0.8 0.9"/>
<circle cx="71" cy="233" r="8.8" fill="#fafaf4" stroke="#86802c" stroke-width="0.5"/>
<path d="M63.14,229.77 L78.86,229.77 L71,241.27 Z" fill="#2f6a2c"/>
<circle cx="71" cy="234.21" r="3.33" fill="#e0cf46"/>
<rect x="69.49" y="232.7" width="3.02" height="3.02" fill="#86802c"/>
<rect x="66.46" y="226.35" width="9.07" height="2.02" fill="#4b4b3a"/>
<circle cx="16.8" cy="272.6" r="12.4" fill="#86802c"/>
<circle cx="16.8" cy="272.6" r="11.7" fill="#e0cf46"/>
<circle cx="16.8" cy="272.6" r="10.2" fill="none" stroke="#86802c" stroke-width="0.9" stroke-dasharray="0.8 0.9"/>
<circle cx="16.8" cy="272.6" r="8.8" fill="#fafaf4" stroke="#86802c" stroke-width="0.5"/>
<path d="M8.94,269.37 L24.66,269.37 L16.8,280.87 Z" fill="#2f6a2c"/>
<circle cx="16.8" cy="273.81" r="3.33" fill="#e0cf46"/>
<rect x="15.29" y="272.3" width="3.02" height="3.02" fill="#86802c"/>
<rect x="12.26" y="265.95" width="9.07" height="2.02" fill="#4b4b3a"/>
<circle cx="123.4" cy="272.6" r="12.4" fill="#86802c"/>
<circle cx="123.4" cy="272.6" r="11.7" fill="#e0cf46"/>
<circle cx="123.4" cy="272.6" r="10.2" fill="none" stroke="#86802c" stroke-width="0.9" stroke-dasharray="0.8 0.9"/>
<circle cx="123.4" cy="272.6" r="8.8" fill="#fafaf4" stroke="#86802c" stroke-width="0.5"/>
<path d="M115.54,269.37 L131.26,269.37 L123.4,280.87 Z" fill="#2f6a2c"/>
<circle cx="123.4" cy="273.81" r="3.33" fill="#e0cf46"/>
<rect x="121.89" y="272.3" width="3.02" height="3.02" fill="#86802c"/>
<rect x="118.86" y="265.95" width="9.07" height="2.02" fill="#4b4b3a"/>
<circle cx="71.5" cy="310.5" r="12.4" fill="#86802c"/>
<circle cx="71.5" cy="310.5" r="11.7" fill="#e0cf46"/>
<circle cx="71.5" cy="310.5" r="10.2" fill="none" stroke="#86802c" stroke-width="0.9" stroke-dasharray="0.8 0.9"/>
<circle cx="71.5" cy="310.5" r="8.8" fill="#fafaf4" stroke="#86802c" stroke-width="0.5"/>
<path d="M63.64,307.27 L79.36,307.27 L71.5,318.77 Z" fill="#2f6a2c"/>
<circle cx="71.5" cy="311.71" r="3.33" fill="#e0cf46"/>
<rect x="69.99" y="310.2" width="3.02" height="3.02" fill="#86802c"/>
<rect x="66.96" y="303.85" width="9.07" height="2.02" fill="#4b4b3a"/>
<path transform="translate(36.2,190.2) scale(1.15,1.3)" d="M1,2 H9 M2.2,3.4 H7.8 V6.6 H2.2 Z M2.2,5 H7.8 M5,0.3 V10 M4.6,6.8 L1,9.6 M5.4,6.8 L9.2,9.6" stroke="#161616" stroke-width="0.86" fill="none" stroke-linecap="round" stroke-linejoin="round" opacity="1"/>
<path transform="translate(49.7,190.2) scale(1.15,1.3)" d="M1,1.8 H9 M5,0.2 V3.4 M1.6,3.4 V10 M1.6,3.4 H8.4 V9.4 L7.4,9.9 M3.6,4.4 L4.2,5.4 M6.4,4.4 L5.8,5.4 M3,6.4 H7 M3,8.2 H7 M5,6.4 V10" stroke="#161616" stroke-width="0.86" fill="none" stroke-linecap="round" stroke-linejoin="round" opacity="1"/>
<path transform="translate(63.2,190.2) scale(1.15,1.3)" d="M0.8,3.6 H9.2 M5,0.3 V3.6 Q4.6,7.4 0.8,10 M5.2,4.6 Q6.6,8 9.4,10" stroke="#161616" stroke-width="0.86" fill="none" stroke-linecap="round" stroke-linejoin="round" opacity="1"/>
<path transform="translate(76.7,190.2) scale(1.15,1.3)" d="M1.2,0.6 L2,2.6 M3.4,0.4 V3 M6.6,0.4 V3 M8.8,0.6 L8,2.6 M4.3,1.1 L5.7,2.7 M5.7,1.1 L4.3,2.7 M0.8,4.9 V3.8 H9.2 V4.9 M3,5.6 H7 L5,7 M5,7 V10 L3.8,9.4 M1.2,7.9 H8.8" stroke="#161616" stroke-width="0.86" fill="none" stroke-linecap="round" stroke-linejoin="round" opacity="1"/>
<text x="37" y="206.4" font-family="Liberation Serif, serif" font-weight="bold" font-size="2.62" textLength="52" lengthAdjust="spacingAndGlyphs" fill="#3a3a3a" opacity="0.7">SOUTHEAST UNIVERSITY</text>
<path transform="translate(-10.5,228.3) scale(1.1,1.3)" d="M1,2 H9 M2.2,3.4 H7.8 V6.6 H2.2 Z M2.2,5 H7.8 M5,0.3 V10 M4.6,6.8 L1,9.6 M5.4,6.8 L9.2,9.6" stroke="#161616" stroke-width="0.87" fill="none" stroke-linecap="round" stroke-linejoin="round" opacity="1"/>
<path transform="translate(2.5,228.3) scale(1.1,1.3)" d="M1,1.8 H9 M5,0.2 V3.4 M1.6,3.4 V10 M1.6,3.4 H8.4 V9.4 L7.4,9.9 M3.6,4.4 L4.2,5.4 M6.4,4.4 L5.8,5.4 M3,6.4 H7 M3,8.2 H7 M5,6.4 V10" stroke="#161616" stroke-width="0.87" fill="none" stroke-linecap="round" stroke-linejoin="round" opacity="1"/>
<path transform="translate(15.5,228.3) scale(1.1,1.3)" d="M0.8,3.6 H9.2 M5,0.3 V3.6 Q4.6,7.4 0.8,10 M5.2,4.6 Q6.6,8 9.4,10" stroke="#161616" stroke-width="0.87" fill="none" stroke-linecap="round" stroke-linejoin="round" opacity="1"/>
<path transform="translate(28.5,228.3) scale(1.1,1.3)" d="M1.2,0.6 L2,2.6 M3.4,0.4 V3 M6.6,0.4 V3 M8.8,0.6 L8,2.6 M4.3,1.1 L5.7,2.7 M5.7,1.1 L4.3,2.7 M0.8,4.9 V3.8 H9.2 V4.9 M3,5.6 H7 L5,7 M5,7 V10 L3.8,9.4 M1.2,7.9 H8.8" stroke="#161616" stroke-width="0.87" fill="none" stroke-linecap="round" stroke-linejoin="round" opacity="1"/>
<text x="-18.5" y="245.6" font-family="Liberation Serif, serif" font-weight="bold" font-size="2.62" textLength="53" lengthAdjust="spacingAndGlyphs" fill="#3a3a3a" opacity="0.7">SOUTHEAST UNIVERSITY</text>
<path transform="translate(89.5,224.4) scale(1.1,1.3)" d="M1,2 H9 M2.2,3.4 H7.8 V6.6 H2.2 Z M2.2,5 H7.8 M5,0.3 V10 M4.6,6.8 L1,9.6 M5.4,6.8 L9.2,9.6" stroke="#161616" stroke-width="0.87" fill="none" stroke-linecap="round" stroke-linejoin="round" opacity="1"/>
<path transform="translate(102.5,224.4) scale(1.1,1.3)" d="M1,1.8 H9 M5,0.2 V3.4 M1.6,3.4 V10 M1.6,3.4 H8.4 V9.4 L7.4,9.9 M3.6,4.4 L4.2,5.4 M6.4,4.4 L5.8,5.4 M3,6.4 H7 M3,8.2 H7 M5,6.4 V10" stroke="#161616" stroke-width="0.87" fill="none" stroke-linecap="round" stroke-linejoin="round" opacity="1"/>
<path transform="translate(115.5,224.4) scale(1.1,1.3)" d="M0.8,3.6 H9.2 M5,0.3 V3.6 Q4.6,7.4 0.8,10 M5.2,4.6 Q6.6,8 9.4,10" stroke="#161616" stroke-width="0.87" fill="none" stroke-linecap="round" stroke-linejoin="round" opacity="1"/>
<text x="90" y="242.2" font-family="Liberation Serif, serif" font-weight="bold" font-size="2.62" textLength="53" lengthAdjust="spacingAndGlyphs" fill="#3a3a3a" opacity="0.7">SOUTHEAST UNIVERSITY</text>
<path transform="translate(37.2,261.8) scale(1.17,1.36)" d="M1,2 H9 M2.2,3.4 H7.8 V6.6 H2.2 Z M2.2,5 H7.8 M5,0.3 V10 M4.6,6.8 L1,9.6 M5.4,6.8 L9.2,9.6" stroke="#161616" stroke-width="0.91" fill="none" stroke-linecap="round" stroke-linejoin="round" opacity="1"/>
<path transform="translate(51.1,261.8) scale(1.17,1.36)" d="M1,1.8 H9 M5,0.2 V3.4 M1.6,3.4 V10 M1.6,3.4 H8.4 V9.4 L7.4,9.9 M3.6,4.4 L4.2,5.4 M6.4,4.4 L5.8,5.4 M3,6.4 H7 M3,8.2 H7 M5,6.4 V10" stroke="#161616" stroke-width="0.91" fill="none" stroke-linecap="round" stroke-linejoin="round" opacity="1"/>
<path transform="translate(65,261.8) scale(1.17,1.36)" d="M0.8,3.6 H9.2 M5,0.3 V3.6 Q4.6,7.4 0.8,10 M5.2,4.6 Q6.6,8 9.4,10" stroke="#161616" stroke-width="0.91" fill="none" stroke-linecap="round" stroke-linejoin="round" opacity="1"/>
<path transform="translate(78.9,261.8) scale(1.17,1.36)" d="M1.2,0.6 L2,2.6 M3.4,0.4 V3 M6.6,0.4 V3 M8.8,0.6 L8,2.6 M4.3,1.1 L5.7,2.7 M5.7,1.1 L4.3,2.7 M0.8,4.9 V3.8 H9.2 V4.9 M3,5.6 H7 L5,7 M5,7 V10 L3.8,9.4 M1.2,7.9 H8.8" stroke="#161616" stroke-width="0.91" fill="none" stroke-linecap="round" stroke-linejoin="round" opacity="1"/>
<text x="37.5" y="281.5" font-family="Liberation Serif, serif" font-weight="bold" font-size="2.8" textLength="53" lengthAdjust="spacingAndGlyphs" fill="#2a2a2a" opacity="0.75">SOUTHEAST UNIVERSITY</text>
<path transform="translate(26.5,299.6) scale(1.1,1.3)" d="M1.2,0.6 L2,2.6 M3.4,0.4 V3 M6.6,0.4 V3 M8.8,0.6 L8,2.6 M4.3,1.1 L5.7,2.7 M5.7,1.1 L4.3,2.7 M0.8,4.9 V3.8 H9.2 V4.9 M3,5.6 H7 L5,7 M5,7 V10 L3.8,9.4 M1.2,7.9 H8.8" stroke="#161616" stroke-width="0.87" fill="none" stroke-linecap="round" stroke-linejoin="round" opacity="1"/>
<path transform="translate(93.5,299.8) scale(1.1,1.3)" d="M1,2 H9 M2.2,3.4 H7.8 V6.6 H2.2 Z M2.2,5 H7.8 M5,0.3 V10 M4.6,6.8 L1,9.6 M5.4,6.8 L9.2,9.6" stroke="#161616" stroke-width="0.87" fill="none" stroke-linecap="round" stroke-linejoin="round" opacity="1"/>
<path transform="translate(106.5,299.8) scale(1.1,1.3)" d="M1,1.8 H9 M5,0.2 V3.4 M1.6,3.4 V10 M1.6,3.4 H8.4 V9.4 L7.4,9.9 M3.6,4.4 L4.2,5.4 M6.4,4.4 L5.8,5.4 M3,6.4 H7 M3,8.2 H7 M5,6.4 V10" stroke="#161616" stroke-width="0.87" fill="none" stroke-linecap="round" stroke-linejoin="round" opacity="1"/>
<path d="M2,219.8 C9,218 15.5,221.5 17.5,230" stroke="#161616" stroke-width="1.7" fill="none"/>
<path d="M20.6,208.5 H109.5 V293 H20.6 Z M30.5,216.2 H98 V284 H30.5 Z" fill-rule="evenodd" fill="#d8d6bc" style="mix-blend-mode:multiply"/>
<rect x="30.5" y="216.2" width="67.5" height="67.8" fill="#86b550" style="mix-blend-mode:multiply"/>
<rect x="21" y="208.9" width="88.1" height="83.7" fill="none" stroke="#a9a487" stroke-width="0.9"/>
<rect x="21.6" y="284.3" width="86.9" height="7.7" fill="#ebe8d8" opacity="0.55"/>
<path d="M21.6,286.5 H108.5 M21.6,290.8 H108.5" stroke="#bdb89a" stroke-width="0.7"/>
<path d="M101.5,214.5 V284 M106.5,210.5 V292 M23.6,210.5 V292 M28.5,214.5 V284" stroke="#bfba9c" stroke-width="0.8"/>
<rect x="38" y="208.9" width="55.5" height="6.7" fill="#a56f50"/>
<rect x="38" y="208.9" width="55.5" height="1.5" fill="#c59878" opacity="0.8"/>
<path d="M40,212.5 H90.5" stroke="#8c5a3c" stroke-width="0.6" stroke-dasharray="3 2 5 1.5" opacity="0.7"/>
<path d="M2,207.6 L42,205.8" stroke="#1f8a7a" stroke-width="2.5" fill="none"/>
<path d="M17.6,229 C18.6,240 19.1,252 19.6,268" stroke="#151515" stroke-width="2.6" fill="none"/>
<path d="M22.6,231 L21.6,249" stroke="#111" stroke-width="5"/>
<path d="M108,211.2 Q116,214 126,221" stroke="#d42a2a" stroke-width="1.7" fill="none"/>
<path d="M1,285.5 L18,272.5" stroke="#d8282a" stroke-width="1.8" fill="none"/>
</g>
<clipPath id="cp2"><rect x="127.8" y="185.8" width="120.3" height="120.6"/></clipPath>
<g clip-path="url(#cp2)" style="isolation:isolate">
<rect x="127.8" y="185.8" width="120.3" height="120.6" fill="#f6f6f4"/>
<circle cx="140.1" cy="198.2" r="12.4" fill="#86802c"/>
<circle cx="140.1" cy="198.2" r="11.7" fill="#e0cf46"/>
<circle cx="140.1" cy="198.2" r="10.2" fill="none" stroke="#86802c" stroke-width="0.9" stroke-dasharray="0.8 0.9"/>
<circle cx="140.1" cy="198.2" r="8.8" fill="#fafaf4" stroke="#86802c" stroke-width="0.5"/>
<path d="M132.24,194.97 L147.96,194.97 L140.1,206.47 Z" fill="#2f6a2c"/>
<circle cx="140.1" cy="199.41" r="3.33" fill="#e0cf46"/>
<rect x="138.59" y="197.9" width="3.02" height="3.02" fill="#86802c"/>
<rect x="135.56" y="191.55" width="9.07" height="2.02" fill="#4b4b3a"/>
<circle cx="239.1" cy="198" r="12.4" fill="#86802c"/>
<circle cx="239.1" cy="198" r="11.7" fill="#e0cf46"/>
<circle cx="239.1" cy="198" r="10.2" fill="none" stroke="#86802c" stroke-width="0.9" stroke-dasharray="0.8 0.9"/>
<circle cx="239.1" cy="198" r="8.8" fill="#fafaf4" stroke="#86802c" stroke-width="0.5"/>
<path d="M231.24,194.77 L246.96,194.77 L239.1,206.27 Z" fill="#2f6a2c"/>
<circle cx="239.1" cy="199.21" r="3.33" fill="#e0cf46"/>
<rect x="237.59" y="197.7" width="3.02" height="3.02" fill="#86802c"/>
<rect x="234.56" y="191.35" width="9.07" height="2.02" fill="#4b4b3a"/>
<circle cx="193.5" cy="233" r="12.4" fill="#86802c"/>
<circle cx="193.5" cy="233" r="11.7" fill="#e0cf46"/>
<circle cx="193.5" cy="233" r="10.2" fill="none" stroke="#86802c" stroke-width="0.9" stroke-dasharray="0.8 0.9"/>
<circle cx="193.5" cy="233" r="8.8" fill="#fafaf4" stroke="#86802c" stroke-width="0.5"/>
<path d="M185.64,229.77 L201.36,229.77 L193.5,241.27 Z" fill="#2f6a2c"/>
<circle cx="193.5" cy="234.21" r="3.33" fill="#e0cf46"/>
<rect x="191.99" y="232.7" width="3.02" height="3.02" fill="#86802c"/>
<rect x="188.96" y="226.35" width="9.07" height="2.02" fill="#4b4b3a"/>
<circle cx="139.3" cy="272.6" r="12.4" fill="#86802c"/>
<circle cx="139.3" cy="272.6" r="11.7" fill="#e0cf46"/>
<circle cx="139.3" cy="272.6" r="10.2" fill="none" stroke="#86802c" stroke-width="0.9" stroke-dasharray="0.8 0.9"/>
<circle cx="139.3" cy="272.6" r="8.8" fill="#fafaf4" stroke="#86802c" stroke-width="0.5"/>
<path d="M131.44,269.37 L147.16,269.37 L139.3,280.87 Z" fill="#2f6a2c"/>
<circle cx="139.3" cy="273.81" r="3.33" fill="#e0cf46"/>
<rect x="137.79" y="272.3" width="3.02" height="3.02" fill="#86802c"/>
<rect x="134.76" y="265.95" width="9.07" height="2.02" fill="#4b4b3a"/>
<circle cx="245.9" cy="272.6" r="12.4" fill="#86802c"/>
<circle cx="245.9" cy="272.6" r="11.7" fill="#e0cf46"/>
<circle cx="245.9" cy="272.6" r="10.2" fill="none" stroke="#86802c" stroke-width="0.9" stroke-dasharray="0.8 0.9"/>
<circle cx="245.9" cy="272.6" r="8.8" fill="#fafaf4" stroke="#86802c" stroke-width="0.5"/>
<path d="M238.04,269.37 L253.76,269.37 L245.9,280.87 Z" fill="#2f6a2c"/>
<circle cx="245.9" cy="273.81" r="3.33" fill="#e0cf46"/>
<rect x="244.39" y="272.3" width="3.02" height="3.02" fill="#86802c"/>
<rect x="241.36" y="265.95" width="9.07" height="2.02" fill="#4b4b3a"/>
<circle cx="194" cy="310.5" r="12.4" fill="#86802c"/>
<circle cx="194" cy="310.5" r="11.7" fill="#e0cf46"/>
<circle cx="194" cy="310.5" r="10.2" fill="none" stroke="#86802c" stroke-width="0.9" stroke-dasharray="0.8 0.9"/>
<circle cx="194" cy="310.5" r="8.8" fill="#fafaf4" stroke="#86802c" stroke-width="0.5"/>
<path d="M186.14,307.27 L201.86,307.27 L194,318.77 Z" fill="#2f6a2c"/>
<circle cx="194" cy="311.71" r="3.33" fill="#e0cf46"/>
<rect x="192.49" y="310.2" width="3.02" height="3.02" fill="#86802c"/>
<rect x="189.46" y="303.85" width="9.07" height="2.02" fill="#4b4b3a"/>
<path transform="translate(158.7,190.2) scale(1.15,1.3)" d="M1,2 H9 M2.2,3.4 H7.8 V6.6 H2.2 Z M2.2,5 H7.8 M5,0.3 V10 M4.6,6.8 L1,9.6 M5.4,6.8 L9.2,9.6" stroke="#161616" stroke-width="0.86" fill="none" stroke-linecap="round" stroke-linejoin="round" opacity="1"/>
<path transform="translate(172.2,190.2) scale(1.15,1.3)" d="M1,1.8 H9 M5,0.2 V3.4 M1.6,3.4 V10 M1.6,3.4 H8.4 V9.4 L7.4,9.9 M3.6,4.4 L4.2,5.4 M6.4,4.4 L5.8,5.4 M3,6.4 H7 M3,8.2 H7 M5,6.4 V10" stroke="#161616" stroke-width="0.86" fill="none" stroke-linecap="round" stroke-linejoin="round" opacity="1"/>
<path transform="translate(185.7,190.2) scale(1.15,1.3)" d="M0.8,3.6 H9.2 M5,0.3 V3.6 Q4.6,7.4 0.8,10 M5.2,4.6 Q6.6,8 9.4,10" stroke="#161616" stroke-width="0.86" fill="none" stroke-linecap="round" stroke-linejoin="round" opacity="1"/>
<path transform="translate(199.2,190.2) scale(1.15,1.3)" d="M1.2,0.6 L2,2.6 M3.4,0.4 V3 M6.6,0.4 V3 M8.8,0.6 L8,2.6 M4.3,1.1 L5.7,2.7 M5.7,1.1 L4.3,2.7 M0.8,4.9 V3.8 H9.2 V4.9 M3,5.6 H7 L5,7 M5,7 V10 L3.8,9.4 M1.2,7.9 H8.8" stroke="#161616" stroke-width="0.86" fill="none" stroke-linecap="round" stroke-linejoin="round" opacity="1"/>
<text x="159.5" y="206.4" font-family="Liberation Serif, serif" font-weight="bold" font-size="2.62" textLength="52" lengthAdjust="spacingAndGlyphs" fill="#3a3a3a" opacity="0.7">SOUTHEAST UNIVERSITY</text>
<path transform="translate(112,228.3) scale(1.1,1.3)" d="M1,2 H9 M2.2,3.4 H7.8 V6.6 H2.2 Z M2.2,5 H7.8 M5,0.3 V10 M4.6,6.8 L1,9.6 M5.4,6.8 L9.2,9.6" stroke="#161616" stroke-width="0.87" fill="none" stroke-linecap="round" stroke-linejoin="round" opacity="1"/>
<path transform="translate(125,228.3) scale(1.1,1.3)" d="M1,1.8 H9 M5,0.2 V3.4 M1.6,3.4 V10 M1.6,3.4 H8.4 V9.4 L7.4,9.9 M3.6,4.4 L4.2,5.4 M6.4,4.4 L5.8,5.4 M3,6.4 H7 M3,8.2 H7 M5,6.4 V10" stroke="#161616" stroke-width="0.87" fill="none" stroke-linecap="round" stroke-linejoin="round" opacity="1"/>
<path transform="translate(138,228.3) scale(1.1,1.3)" d="M0.8,3.6 H9.2 M5,0.3 V3.6 Q4.6,7.4 0.8,10 M5.2,4.6 Q6.6,8 9.4,10" stroke="#161616" stroke-width="0.87" fill="none" stroke-linecap="round" stroke-linejoin="round" opacity="1"/>
<path transform="translate(151,228.3) scale(1.1,1.3)" d="M1.2,0.6 L2,2.6 M3.4,0.4 V3 M6.6,0.4 V3 M8.8,0.6 L8,2.6 M4.3,1.1 L5.7,2.7 M5.7,1.1 L4.3,2.7 M0.8,4.9 V3.8 H9.2 V4.9 M3,5.6 H7 L5,7 M5,7 V10 L3.8,9.4 M1.2,7.9 H8.8" stroke="#161616" stroke-width="0.87" fill="none" stroke-linecap="round" stroke-linejoin="round" opacity="1"/>
<text x="104" y="245.6" font-family="Liberation Serif, serif" font-weight="bold" font-size="2.62" textLength="53" lengthAdjust="spacingAndGlyphs" fill="#3a3a3a" opacity="0.7">SOUTHEAST UNIVERSITY</text>
<path transform="translate(212,224.4) scale(1.1,1.3)" d="M1,2 H9 M2.2,3.4 H7.8 V6.6 H2.2 Z M2.2,5 H7.8 M5,0.3 V10 M4.6,6.8 L1,9.6 M5.4,6.8 L9.2,9.6" stroke="#161616" stroke-width="0.87" fill="none" stroke-linecap="round" stroke-linejoin="round" opacity="1"/>
<path transform="translate(225,224.4) scale(1.1,1.3)" d="M1,1.8 H9 M5,0.2 V3.4 M1.6,3.4 V10 M1.6,3.4 H8.4 V9.4 L7.4,9.9 M3.6,4.4 L4.2,5.4 M6.4,4.4 L5.8,5.4 M3,6.4 H7 M3,8.2 H7 M5,6.4 V10" stroke="#161616" stroke-width="0.87" fill="none" stroke-linecap="round" stroke-linejoin="round" opacity="1"/>
<path transform="translate(238,224.4) scale(1.1,1.3)" d="M0.8,3.6 H9.2 M5,0.3 V3.6 Q4.6,7.4 0.8,10 M5.2,4.6 Q6.6,8 9.4,10" stroke="#161616" stroke-width="0.87" fill="none" stroke-linecap="round" stroke-linejoin="round" opacity="1"/>
<text x="212.5" y="242.2" font-family="Liberation Serif, serif" font-weight="bold" font-size="2.62" textLength="53" lengthAdjust="spacingAndGlyphs" fill="#3a3a3a" opacity="0.7">SOUTHEAST UNIVERSITY</text>
<path transform="translate(159.7,261.8) scale(1.17,1.36)" d="M1,2 H9 M2.2,3.4 H7.8 V6.6 H2.2 Z M2.2,5 H7.8 M5,0.3 V10 M4.6,6.8 L1,9.6 M5.4,6.8 L9.2,9.6" stroke="#161616" stroke-width="0.91" fill="none" stroke-linecap="round" stroke-linejoin="round" opacity="1"/>
<path transform="translate(173.6,261.8) scale(1.17,1.36)" d="M1,1.8 H9 M5,0.2 V3.4 M1.6,3.4 V10 M1.6,3.4 H8.4 V9.4 L7.4,9.9 M3.6,4.4 L4.2,5.4 M6.4,4.4 L5.8,5.4 M3,6.4 H7 M3,8.2 H7 M5,6.4 V10" stroke="#161616" stroke-width="0.91" fill="none" stroke-linecap="round" stroke-linejoin="round" opacity="1"/>
<path transform="translate(187.5,261.8) scale(1.17,1.36)" d="M0.8,3.6 H9.2 M5,0.3 V3.6 Q4.6,7.4 0.8,10 M5.2,4.6 Q6.6,8 9.4,10" stroke="#161616" stroke-width="0.91" fill="none" stroke-linecap="round" stroke-linejoin="round" opacity="1"/>
<path transform="translate(201.4,261.8) scale(1.17,1.36)" d="M1.2,0.6 L2,2.6 M3.4,0.4 V3 M6.6,0.4 V3 M8.8,0.6 L8,2.6 M4.3,1.1 L5.7,2.7 M5.7,1.1 L4.3,2.7 M0.8,4.9 V3.8 H9.2 V4.9 M3,5.6 H7 L5,7 M5,7 V10 L3.8,9.4 M1.2,7.9 H8.8" stroke="#161616" stroke-width="0.91" fill="none" stroke-linecap="round" stroke-linejoin="round" opacity="1"/>
<text x="160" y="281.5" font-family="Liberation Serif, serif" font-weight="bold" font-size="2.8" textLength="53" lengthAdjust="spacingAndGlyphs" fill="#2a2a2a" opacity="0.75">SOUTHEAST UNIVERSITY</text>
<path transform="translate(149,299.6) scale(1.1,1.3)" d="M1.2,0.6 L2,2.6 M3.4,0.4 V3 M6.6,0.4 V3 M8.8,0.6 L8,2.6 M4.3,1.1 L5.7,2.7 M5.7,1.1 L4.3,2.7 M0.8,4.9 V3.8 H9.2 V4.9 M3,5.6 H7 L5,7 M5,7 V10 L3.8,9.4 M1.2,7.9 H8.8" stroke="#161616" stroke-width="0.87" fill="none" stroke-linecap="round" stroke-linejoin="round" opacity="1"/>
<path transform="translate(216,299.8) scale(1.1,1.3)" d="M1,2 H9 M2.2,3.4 H7.8 V6.6 H2.2 Z M2.2,5 H7.8 M5,0.3 V10 M4.6,6.8 L1,9.6 M5.4,6.8 L9.2,9.6" stroke="#161616" stroke-width="0.87" fill="none" stroke-linecap="round" stroke-linejoin="round" opacity="1"/>
<path transform="translate(229,299.8) scale(1.1,1.3)" d="M1,1.8 H9 M5,0.2 V3.4 M1.6,3.4 V10 M1.6,3.4 H8.4 V9.4 L7.4,9.9 M3.6,4.4 L4.2,5.4 M6.4,4.4 L5.8,5.4 M3,6.4 H7 M3,8.2 H7 M5,6.4 V10" stroke="#161616" stroke-width="0.87" fill="none" stroke-linecap="round" stroke-linejoin="round" opacity="1"/>
<path d="M124.5,219.8 C131.5,218 138,221.5 140,230" stroke="#161616" stroke-width="1.7" fill="none"/>
<path d="M144.2,208.6 H231.5 V293.5 H144.2 Z M153.5,216.8 H222.8 V284 H153.5 Z" fill-rule="evenodd" fill="#cfccae" style="mix-blend-mode:multiply"/>
<rect x="153.5" y="216.8" width="69.3" height="67.2" fill="#1e4a42" style="mix-blend-mode:multiply"/>
<rect x="144.6" y="209" width="86.5" height="84.1" fill="none" stroke="#a9a487" stroke-width="0.9"/>
<rect x="145.2" y="284.3" width="85.3" height="8.2" fill="#ebe8d8" opacity="0.55"/>
<path d="M145.2,286.5 H230.5 M145.2,291.3 H230.5" stroke="#bdb89a" stroke-width="0.7"/>
<path d="M226.3,214.6 V284 M228.5,210.6 V292.5 M147.2,210.6 V292.5 M151.5,214.6 V284" stroke="#bfba9c" stroke-width="0.8"/>
<rect x="160.3" y="208.9" width="56.9" height="6.7" fill="#a56f50"/>
<rect x="160.3" y="208.9" width="56.9" height="1.5" fill="#c59878" opacity="0.8"/>
<path d="M162.3,212.5 H214.2" stroke="#8c5a3c" stroke-width="0.6" stroke-dasharray="3 2 5 1.5" opacity="0.7"/>
<path d="M127,212.8 L147,210.2 L164,206.1" stroke="#1f8a7a" stroke-width="2.5" fill="none"/>
<path d="M138.6,229 C139.6,240 140.1,252 140.6,268" stroke="#151515" stroke-width="2.6" fill="none"/>
<path d="M143.6,231 L142.6,249" stroke="#111" stroke-width="5"/>
<path d="M230.5,211.2 Q238.5,214 248.5,221" stroke="#d42a2a" stroke-width="1.7" fill="none"/>
<path d="M123.5,285.5 L140.5,272.5" stroke="#d8282a" stroke-width="1.8" fill="none"/>
</g>
<text x="19.4" y="324.2" font-size="10" text-anchor="start" font-weight="normal" fill="#383838">Full-discharged state</text>
<text x="145.6" y="324.2" font-size="10" text-anchor="start" font-weight="normal" fill="#383838">Full-charged state</text>
</svg></body></html>
